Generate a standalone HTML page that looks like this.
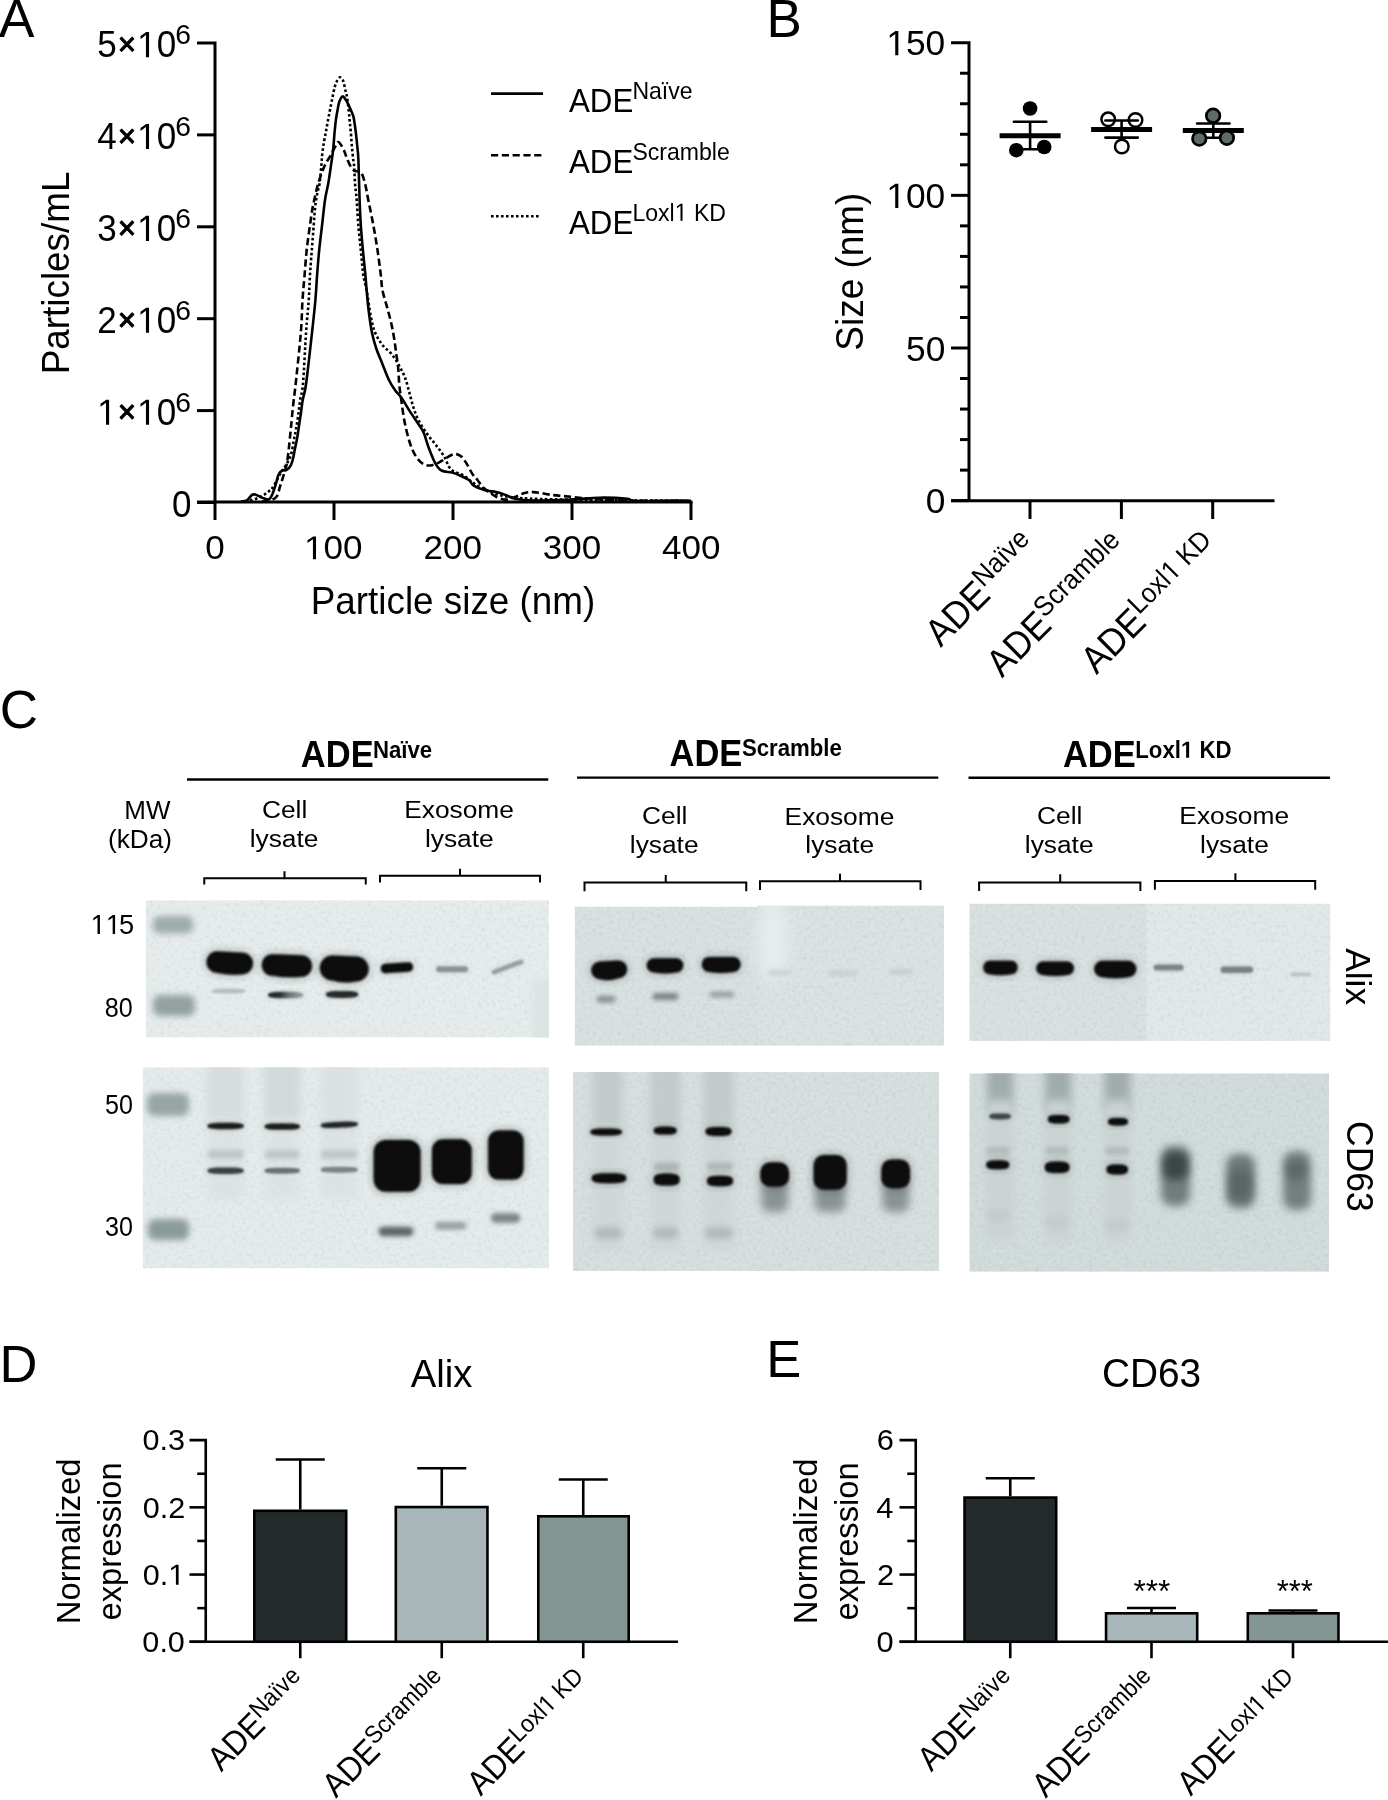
<!DOCTYPE html>
<html><head><meta charset="utf-8"><style>
html,body{margin:0;padding:0;background:#fff;}
svg{display:block;will-change:transform;}
text{font-family:"Liberation Sans", sans-serif;}
</style></head><body>
<svg width="1388" height="1800" viewBox="0 0 1388 1800">
<rect width="1388" height="1800" fill="#fff"/>
<defs>
<filter id="b1" x="-50%" y="-50%" width="200%" height="200%"><feGaussianBlur stdDeviation="1.1"/></filter>
<filter id="b2" x="-50%" y="-50%" width="200%" height="200%"><feGaussianBlur stdDeviation="2"/></filter>
<filter id="b3" x="-50%" y="-50%" width="200%" height="200%"><feGaussianBlur stdDeviation="3"/></filter>
<filter id="b4" x="-50%" y="-50%" width="200%" height="200%"><feGaussianBlur stdDeviation="4"/></filter>
<filter id="b6" x="-50%" y="-50%" width="200%" height="200%"><feGaussianBlur stdDeviation="6"/></filter>
<filter id="b8" x="-50%" y="-50%" width="200%" height="200%"><feGaussianBlur stdDeviation="8"/></filter>
<filter id="nzd" x="0" y="0" width="100%" height="100%"><feTurbulence type="fractalNoise" baseFrequency="0.28" numOctaves="3" seed="7" result="t"/><feGaussianBlur in="t" stdDeviation="0.7" result="t2"/><feColorMatrix in="t2" type="matrix" values="0 0 0 0 0.1  0 0 0 0 0.15  0 0 0 0 0.15  0.45 0 0 0 -0.225"/></filter>
<filter id="nzl" x="0" y="0" width="100%" height="100%"><feTurbulence type="fractalNoise" baseFrequency="0.28" numOctaves="3" seed="7" result="t"/><feGaussianBlur in="t" stdDeviation="0.7" result="t2"/><feColorMatrix in="t2" type="matrix" values="0 0 0 0 1  0 0 0 0 1  0 0 0 0 1  -0.45 0 0 0 0.225"/></filter>
<linearGradient id="gl2" x1="0" y1="0" x2="1" y2="0"><stop offset="0" stop-color="#202424"/><stop offset="0.35" stop-color="#2c3131"/><stop offset="0.6" stop-color="#6d7575"/><stop offset="1" stop-color="#9aa2a2"/></linearGradient>
<clipPath id="c1a"><rect x="145.7" y="900.2" width="403.3" height="137.3"/></clipPath>
<clipPath id="c1c"><rect x="142.6" y="1067.3" width="406.4" height="201.1"/></clipPath>
<clipPath id="c2a"><rect x="574.6" y="905.5" width="369.4" height="140.3"/></clipPath>
<clipPath id="c2c"><rect x="573" y="1072.1" width="366" height="198.9"/></clipPath>
<clipPath id="c3a"><rect x="969.3" y="903.6" width="361.2" height="137.3"/></clipPath>
<clipPath id="c3c"><rect x="969.3" y="1073.3" width="359.8" height="198.5"/></clipPath>
</defs>
<g transform="translate(-1.33,36.70) scale(1.0000,1)"><text font-size="53.50">A</text></g>
<path d="M197,43.0 H215 V502.5" fill="none" stroke="#000" stroke-width="3" stroke-linejoin="miter"/>
<line x1="197" y1="134.9" x2="215" y2="134.9" stroke="#000" stroke-width="3"/>
<line x1="197" y1="226.8" x2="215" y2="226.8" stroke="#000" stroke-width="3"/>
<line x1="197" y1="318.70000000000005" x2="215" y2="318.70000000000005" stroke="#000" stroke-width="3"/>
<line x1="197" y1="410.6" x2="215" y2="410.6" stroke="#000" stroke-width="3"/>
<line x1="197" y1="502.5" x2="215" y2="502.5" stroke="#000" stroke-width="3"/>
<line x1="197" y1="502" x2="692.5" y2="502" stroke="#000" stroke-width="3"/>
<line x1="215" y1="502" x2="215" y2="520" stroke="#000" stroke-width="3"/>
<line x1="334" y1="502" x2="334" y2="520" stroke="#000" stroke-width="3"/>
<line x1="453" y1="502" x2="453" y2="520" stroke="#000" stroke-width="3"/>
<line x1="572" y1="502" x2="572" y2="520" stroke="#000" stroke-width="3"/>
<line x1="691" y1="502" x2="691" y2="520" stroke="#000" stroke-width="3"/>
<g transform="translate(97.20,57.14) scale(0.9607,1)"><text x="0.00" font-size="36.47">5</text><path d="M142 330 496 684 144 1036 248 1139 598 786 948 1137 1053 1032 703 684 1055 332 953 227 600 580 244 225Z" transform="translate(20.28,0) scale(0.01781,-0.01781) translate(598,722) scale(0.88) translate(-598,-682)" fill="#000" stroke="#000" stroke-width="70" stroke-linejoin="round"/><path d="M515 0V1237L197 1010V1180L530 1409H696V0Z" transform="translate(41.58,0) scale(0.01781,-0.01781)" fill="#000"/><text x="61.86" font-size="36.47">0</text></g>
<g transform="translate(175.18,44.23) scale(1.0383,1)"><text font-size="27.28">6</text></g>
<g transform="translate(97.20,149.04) scale(0.9607,1)"><text x="0.00" font-size="36.47">4</text><path d="M142 330 496 684 144 1036 248 1139 598 786 948 1137 1053 1032 703 684 1055 332 953 227 600 580 244 225Z" transform="translate(20.28,0) scale(0.01781,-0.01781) translate(598,722) scale(0.88) translate(-598,-682)" fill="#000" stroke="#000" stroke-width="70" stroke-linejoin="round"/><path d="M515 0V1237L197 1010V1180L530 1409H696V0Z" transform="translate(41.58,0) scale(0.01781,-0.01781)" fill="#000"/><text x="61.86" font-size="36.47">0</text></g>
<g transform="translate(175.18,136.13) scale(1.0383,1)"><text font-size="27.28">6</text></g>
<g transform="translate(97.20,240.94) scale(0.9607,1)"><text x="0.00" font-size="36.47">3</text><path d="M142 330 496 684 144 1036 248 1139 598 786 948 1137 1053 1032 703 684 1055 332 953 227 600 580 244 225Z" transform="translate(20.28,0) scale(0.01781,-0.01781) translate(598,722) scale(0.88) translate(-598,-682)" fill="#000" stroke="#000" stroke-width="70" stroke-linejoin="round"/><path d="M515 0V1237L197 1010V1180L530 1409H696V0Z" transform="translate(41.58,0) scale(0.01781,-0.01781)" fill="#000"/><text x="61.86" font-size="36.47">0</text></g>
<g transform="translate(175.18,228.03) scale(1.0383,1)"><text font-size="27.28">6</text></g>
<g transform="translate(97.20,332.84) scale(0.9607,1)"><text x="0.00" font-size="36.47">2</text><path d="M142 330 496 684 144 1036 248 1139 598 786 948 1137 1053 1032 703 684 1055 332 953 227 600 580 244 225Z" transform="translate(20.28,0) scale(0.01781,-0.01781) translate(598,722) scale(0.88) translate(-598,-682)" fill="#000" stroke="#000" stroke-width="70" stroke-linejoin="round"/><path d="M515 0V1237L197 1010V1180L530 1409H696V0Z" transform="translate(41.58,0) scale(0.01781,-0.01781)" fill="#000"/><text x="61.86" font-size="36.47">0</text></g>
<g transform="translate(175.18,319.93) scale(1.0383,1)"><text font-size="27.28">6</text></g>
<g transform="translate(97.20,424.74) scale(0.9607,1)"><path d="M515 0V1237L197 1010V1180L530 1409H696V0Z" transform="translate(0.00,0) scale(0.01781,-0.01781)" fill="#000"/><path d="M142 330 496 684 144 1036 248 1139 598 786 948 1137 1053 1032 703 684 1055 332 953 227 600 580 244 225Z" transform="translate(20.28,0) scale(0.01781,-0.01781) translate(598,722) scale(0.88) translate(-598,-682)" fill="#000" stroke="#000" stroke-width="70" stroke-linejoin="round"/><path d="M515 0V1237L197 1010V1180L530 1409H696V0Z" transform="translate(41.58,0) scale(0.01781,-0.01781)" fill="#000"/><text x="61.86" font-size="36.47">0</text></g>
<g transform="translate(175.18,411.83) scale(1.0383,1)"><text font-size="27.28">6</text></g>
<g transform="translate(172.07,516.64) scale(0.9607,1)"><text font-size="36.47">0</text></g>
<g transform="translate(205.23,559.17) scale(1.0665,1)"><text font-size="32.86">0</text></g>
<g transform="translate(304.12,559.17) scale(1.0665,1)"><path d="M515 0V1237L197 1010V1180L530 1409H696V0Z" transform="translate(0.00,0) scale(0.01605,-0.01605)" fill="#000"/><text x="18.28" font-size="32.86">00</text></g>
<g transform="translate(423.56,559.17) scale(1.0665,1)"><text font-size="32.86">200</text></g>
<g transform="translate(542.78,559.17) scale(1.0665,1)"><text font-size="32.86">300</text></g>
<g transform="translate(662.04,559.17) scale(1.0665,1)"><text font-size="32.86">400</text></g>
<g transform="translate(310.76,613.66) scale(0.9388,1)"><text font-size="39.25">Particle size (nm)</text></g>
<g transform="translate(68.91,374.34) rotate(-90) scale(0.9545,1)"><text font-size="38.64">Particles/mL</text></g>
<line x1="491" y1="93.6" x2="543" y2="93.6" stroke="#000" stroke-width="2.6"/>
<line x1="491" y1="155.3" x2="543" y2="155.3" stroke="#000" stroke-width="2.6" stroke-dasharray="7.2,3.6"/>
<line x1="491" y1="216.2" x2="540" y2="216.2" stroke="#000" stroke-width="2.6" stroke-dasharray="2.6,2.4"/>
<g transform="translate(569.02,111.70) scale(0.9222,1)"><text font-size="33.89">ADE</text></g>
<g transform="translate(632.40,98.75) scale(0.9297,1)"><text font-size="24.80">Naïve</text></g>
<g transform="translate(569.02,172.70) scale(0.9222,1)"><text font-size="33.89">ADE</text></g>
<g transform="translate(632.40,159.75) scale(0.9297,1)"><text font-size="24.80">Scramble</text></g>
<g transform="translate(569.02,233.70) scale(0.9222,1)"><text font-size="33.89">ADE</text></g>
<g transform="translate(632.40,220.75) scale(0.9297,1)"><text x="0.00" font-size="24.80">Loxl</text><path d="M515 0V1237L197 1010V1180L530 1409H696V0Z" transform="translate(45.50,0) scale(0.01211,-0.01211)" fill="#000"/><text x="66.19" font-size="24.80">KD</text></g>
<path d="M241.00,501.50 C242.00,501.32 245.22,501.47 247.00,500.40 C248.78,499.33 250.33,496.08 251.70,495.10 C253.07,494.12 253.93,494.30 255.20,494.50 C256.47,494.70 257.75,495.62 259.30,496.30 C260.85,496.98 262.85,498.12 264.50,498.60 C266.15,499.08 267.83,500.07 269.20,499.20 C270.57,498.33 271.53,496.13 272.70,493.40 C273.87,490.67 275.23,485.92 276.20,482.80 C277.17,479.68 277.53,476.73 278.50,474.70 C279.47,472.67 280.63,471.38 282.00,470.60 C283.37,469.82 285.23,470.88 286.70,470.00 C288.17,469.12 289.73,467.25 290.80,465.30 C291.87,463.35 292.43,460.92 293.10,458.30 C293.77,455.68 294.12,453.00 294.80,449.60 C295.48,446.20 296.52,441.78 297.20,437.90 C297.88,434.02 298.32,430.18 298.90,426.30 C299.48,422.42 300.07,418.98 300.70,414.60 C301.33,410.22 301.80,405.15 302.70,400.00 C303.60,394.85 304.53,395.05 306.10,383.70 C307.67,372.35 310.55,345.85 312.10,331.90 C313.65,317.95 314.57,309.48 315.40,300.00 C316.23,290.52 316.47,283.33 317.10,275.00 C317.73,266.67 318.37,258.33 319.20,250.00 C320.03,241.67 321.13,233.33 322.10,225.00 C323.07,216.67 323.97,206.95 325.00,200.00 C326.03,193.05 327.33,188.85 328.30,183.30 C329.27,177.75 330.00,172.25 330.80,166.70 C331.60,161.15 332.47,155.78 333.10,150.00 C333.73,144.22 334.12,137.15 334.60,132.00 C335.08,126.85 335.52,122.70 336.00,119.10 C336.48,115.50 336.95,113.28 337.50,110.40 C338.05,107.52 338.47,104.13 339.30,101.80 C340.13,99.47 341.37,96.65 342.50,96.40 C343.63,96.15 344.78,98.20 346.10,100.30 C347.42,102.40 349.20,106.35 350.40,109.00 C351.60,111.65 352.57,113.57 353.30,116.20 C354.03,118.83 354.32,121.57 354.80,124.80 C355.28,128.03 355.78,131.98 356.20,135.60 C356.62,139.22 356.93,142.43 357.30,146.50 C357.67,150.57 358.02,151.08 358.40,160.00 C358.78,168.92 359.20,189.17 359.60,200.00 C360.00,210.83 360.25,216.67 360.80,225.00 C361.35,233.33 362.13,241.67 362.90,250.00 C363.67,258.33 364.78,268.33 365.40,275.00 C366.02,281.67 366.05,283.98 366.60,290.00 C367.15,296.02 367.82,304.07 368.70,311.10 C369.58,318.13 370.67,326.05 371.90,332.20 C373.13,338.35 374.35,342.72 376.10,348.00 C377.85,353.28 380.28,358.62 382.40,363.90 C384.52,369.18 386.68,375.30 388.80,379.70 C390.92,384.10 393.00,387.30 395.10,390.30 C397.20,393.30 398.93,394.18 401.40,397.70 C403.87,401.22 407.08,407.02 409.90,411.40 C412.72,415.78 416.02,420.48 418.30,424.00 C420.58,427.52 421.83,428.45 423.60,432.50 C425.37,436.55 426.97,443.20 428.90,448.30 C430.83,453.40 433.10,459.40 435.20,463.10 C437.30,466.80 438.68,468.92 441.50,470.50 C444.32,472.08 448.93,471.72 452.10,472.60 C455.27,473.48 457.68,474.57 460.50,475.80 C463.32,477.03 466.80,478.37 469.00,480.00 C471.20,481.63 471.03,483.88 473.70,485.60 C476.37,487.32 481.25,489.22 485.00,490.30 C488.75,491.38 492.77,491.32 496.20,492.10 C499.63,492.88 502.48,493.90 505.60,495.00 C508.72,496.10 510.22,497.78 514.90,498.70 C519.58,499.62 524.33,500.35 533.70,500.50 C543.07,500.65 560.18,500.07 571.10,499.60 C582.02,499.13 589.83,497.85 599.20,497.70 C608.57,497.55 621.37,498.15 627.30,498.70 C633.23,499.25 626.98,500.70 634.80,501.00 C642.62,501.30 664.83,500.50 674.20,500.50 C683.57,500.50 688.20,500.92 691.00,501.00" fill="none" stroke="#000" stroke-width="2.6" stroke-linejoin="round"/>
<path d="M262.00,501.50 C263.48,501.32 268.35,501.37 270.90,500.40 C273.45,499.43 275.83,497.85 277.30,495.70 C278.77,493.55 278.92,490.03 279.70,487.50 C280.48,484.97 281.23,482.93 282.00,480.50 C282.77,478.07 283.52,475.62 284.30,472.90 C285.08,470.18 286.02,467.60 286.70,464.20 C287.38,460.80 287.92,456.40 288.40,452.50 C288.88,448.60 289.20,444.68 289.60,440.80 C290.00,436.92 290.42,433.08 290.80,429.20 C291.18,425.32 291.42,422.37 291.90,417.50 C292.38,412.63 293.07,405.63 293.70,400.00 C294.33,394.37 294.50,395.05 295.70,383.70 C296.90,372.35 299.77,345.85 300.90,331.90 C302.03,317.95 301.88,309.48 302.50,300.00 C303.12,290.52 303.90,283.33 304.60,275.00 C305.30,266.67 305.80,258.33 306.70,250.00 C307.60,241.67 309.03,231.95 310.00,225.00 C310.97,218.05 311.80,212.47 312.50,208.30 C313.20,204.13 313.23,204.17 314.20,200.00 C315.17,195.83 316.63,188.85 318.30,183.30 C319.97,177.75 322.20,171.28 324.20,166.70 C326.20,162.12 328.45,159.17 330.30,155.80 C332.15,152.43 333.98,148.78 335.30,146.50 C336.62,144.22 337.23,142.35 338.20,142.10 C339.17,141.85 340.02,143.32 341.10,145.00 C342.18,146.68 343.75,150.03 344.70,152.20 C345.65,154.37 345.78,155.58 346.80,158.00 C347.82,160.42 349.43,164.53 350.80,166.70 C352.17,168.87 353.30,170.05 355.00,171.00 C356.70,171.95 359.33,170.35 361.00,172.40 C362.67,174.45 363.78,178.70 365.00,183.30 C366.22,187.90 366.92,193.05 368.30,200.00 C369.68,206.95 371.77,216.67 373.30,225.00 C374.83,233.33 376.25,241.67 377.50,250.00 C378.75,258.33 379.98,268.33 380.80,275.00 C381.62,281.67 381.42,284.87 382.40,290.00 C383.38,295.13 385.28,300.52 386.70,305.80 C388.12,311.08 389.68,316.42 390.90,321.70 C392.12,326.98 393.12,332.23 394.00,337.50 C394.88,342.77 395.48,348.02 396.20,353.30 C396.92,358.58 397.78,363.92 398.30,369.20 C398.82,374.48 398.78,379.73 399.30,385.00 C399.82,390.27 400.52,394.65 401.40,400.80 C402.28,406.95 403.18,414.87 404.60,421.90 C406.02,428.93 407.97,437.18 409.90,443.00 C411.83,448.82 413.92,453.28 416.20,456.80 C418.48,460.32 420.97,462.70 423.60,464.10 C426.23,465.50 429.02,465.72 432.00,465.20 C434.98,464.68 438.50,462.58 441.50,461.00 C444.50,459.42 447.53,456.85 450.00,455.70 C452.47,454.55 454.37,453.92 456.30,454.10 C458.23,454.28 459.83,455.13 461.60,456.80 C463.37,458.47 465.13,461.30 466.90,464.10 C468.67,466.90 470.43,470.95 472.20,473.60 C473.97,476.25 475.68,477.70 477.50,480.00 C479.32,482.30 480.92,485.22 483.10,487.40 C485.28,489.58 488.42,491.53 490.60,493.10 C492.78,494.67 493.70,495.72 496.20,496.80 C498.70,497.88 502.47,499.57 505.60,499.60 C508.73,499.63 511.88,498.08 515.00,497.00 C518.12,495.92 521.18,493.92 524.30,493.10 C527.42,492.28 529.02,491.78 533.70,492.10 C538.38,492.42 546.17,494.22 552.40,495.00 C558.63,495.78 564.85,496.18 571.10,496.80 C577.35,497.42 583.65,498.23 589.90,498.70 C596.15,499.17 602.37,499.30 608.60,499.60 C614.83,499.90 618.73,500.27 627.30,500.50 C635.87,500.73 649.38,500.92 660.00,501.00 C670.62,501.08 685.83,501.00 691.00,501.00" fill="none" stroke="#000" stroke-width="2.6" stroke-dasharray="7.2,3.6"/>
<path d="M250.00,500.50 C251.33,500.08 255.58,499.00 258.00,498.00 C260.42,497.00 262.63,495.67 264.50,494.50 C266.37,493.33 267.83,492.17 269.20,491.00 C270.57,489.83 270.77,490.52 272.70,487.50 C274.63,484.48 278.67,476.50 280.80,472.90 C282.93,469.30 283.83,468.82 285.50,465.90 C287.17,462.98 289.43,459.58 290.80,455.40 C292.17,451.22 292.83,445.17 293.70,440.80 C294.57,436.43 295.23,433.57 296.00,429.20 C296.77,424.83 297.62,419.47 298.30,414.60 C298.98,409.73 299.32,405.15 300.10,400.00 C300.88,394.85 302.00,395.05 303.00,383.70 C304.00,372.35 305.14,345.85 306.10,331.90 C307.06,317.95 308.10,309.48 308.75,300.00 C309.40,290.52 309.49,283.33 310.00,275.00 C310.51,266.67 311.18,258.33 311.80,250.00 C312.43,241.67 313.22,231.95 313.75,225.00 C314.28,218.05 314.46,213.30 315.00,208.30 C315.54,203.30 316.23,199.17 317.00,195.00 C317.77,190.83 318.89,188.02 319.60,183.30 C320.31,178.58 320.80,171.63 321.25,166.70 C321.70,161.77 321.82,157.92 322.30,153.70 C322.78,149.48 323.50,145.02 324.10,141.40 C324.70,137.78 325.35,135.00 325.90,132.00 C326.45,129.00 326.85,126.40 327.40,123.40 C327.95,120.40 328.60,117.12 329.20,114.00 C329.80,110.88 330.40,107.70 331.00,104.70 C331.60,101.70 332.20,98.88 332.80,96.00 C333.40,93.12 333.95,89.80 334.60,87.40 C335.25,85.00 335.80,83.28 336.70,81.60 C337.60,79.92 338.92,77.42 340.00,77.30 C341.08,77.18 342.30,78.73 343.20,80.90 C344.10,83.07 344.80,87.78 345.40,90.30 C346.00,92.82 346.27,92.88 346.80,96.00 C347.33,99.12 348.12,104.80 348.60,109.00 C349.08,113.20 349.33,117.37 349.70,121.20 C350.07,125.03 350.43,127.78 350.80,132.00 C351.17,136.22 351.48,141.83 351.90,146.50 C352.32,151.17 352.92,156.63 353.30,160.00 C353.68,163.37 353.92,162.82 354.20,166.70 C354.48,170.58 354.58,177.75 355.00,183.30 C355.42,188.85 356.15,193.05 356.70,200.00 C357.25,206.95 357.62,216.67 358.30,225.00 C358.98,233.33 359.97,241.67 360.80,250.00 C361.63,258.33 362.33,268.33 363.30,275.00 C364.27,281.67 365.35,283.10 366.60,290.00 C367.85,296.90 369.40,309.37 370.80,316.40 C372.20,323.43 373.07,327.45 375.00,332.20 C376.93,336.95 379.58,341.20 382.40,344.90 C385.22,348.60 389.08,350.88 391.90,354.40 C394.72,357.92 397.18,362.32 399.30,366.00 C401.42,369.68 403.02,372.45 404.60,376.50 C406.18,380.55 407.40,385.37 408.80,390.30 C410.20,395.23 411.42,401.18 413.00,406.10 C414.58,411.02 416.00,415.23 418.30,419.80 C420.60,424.37 423.98,429.45 426.80,433.50 C429.62,437.55 432.38,440.40 435.20,444.10 C438.02,447.80 441.07,451.48 443.70,455.70 C446.33,459.92 447.72,466.12 451.00,469.40 C454.28,472.68 459.40,472.97 463.40,475.40 C467.40,477.83 470.57,481.23 475.00,484.00 C479.43,486.77 484.17,489.83 490.00,492.00 C495.83,494.17 501.67,495.83 510.00,497.00 C518.33,498.17 525.00,498.50 540.00,499.00 C555.00,499.50 574.83,499.67 600.00,500.00 C625.17,500.33 675.83,500.83 691.00,501.00" fill="none" stroke="#000" stroke-width="2.6" stroke-dasharray="2.6,2.4"/>
<g transform="translate(766.43,36.70) scale(1.0000,1)"><text font-size="53.00">B</text></g>
<path d="M951,42.7 H969 V500.65000000000003" fill="none" stroke="#000" stroke-width="3"/>
<line x1="951" y1="195.35000000000002" x2="969" y2="195.35000000000002" stroke="#000" stroke-width="3"/>
<line x1="951" y1="348.0" x2="969" y2="348.0" stroke="#000" stroke-width="3"/>
<line x1="951" y1="500.65000000000003" x2="969" y2="500.65000000000003" stroke="#000" stroke-width="3"/>
<line x1="960" y1="73.23" x2="969" y2="73.23" stroke="#000" stroke-width="3"/>
<line x1="960" y1="103.76" x2="969" y2="103.76" stroke="#000" stroke-width="3"/>
<line x1="960" y1="134.29000000000002" x2="969" y2="134.29000000000002" stroke="#000" stroke-width="3"/>
<line x1="960" y1="164.82" x2="969" y2="164.82" stroke="#000" stroke-width="3"/>
<line x1="960" y1="225.88" x2="969" y2="225.88" stroke="#000" stroke-width="3"/>
<line x1="960" y1="256.41" x2="969" y2="256.41" stroke="#000" stroke-width="3"/>
<line x1="960" y1="286.94" x2="969" y2="286.94" stroke="#000" stroke-width="3"/>
<line x1="960" y1="317.46999999999997" x2="969" y2="317.46999999999997" stroke="#000" stroke-width="3"/>
<line x1="960" y1="378.53000000000003" x2="969" y2="378.53000000000003" stroke="#000" stroke-width="3"/>
<line x1="960" y1="409.06" x2="969" y2="409.06" stroke="#000" stroke-width="3"/>
<line x1="960" y1="439.59" x2="969" y2="439.59" stroke="#000" stroke-width="3"/>
<line x1="960" y1="470.12" x2="969" y2="470.12" stroke="#000" stroke-width="3"/>
<line x1="951" y1="500.65000000000003" x2="1274.5" y2="500.65000000000003" stroke="#000" stroke-width="3"/>
<line x1="1030" y1="500.65000000000003" x2="1030" y2="519" stroke="#000" stroke-width="3"/>
<line x1="1121.4" y1="500.65000000000003" x2="1121.4" y2="519" stroke="#000" stroke-width="3"/>
<line x1="1212.7" y1="500.65000000000003" x2="1212.7" y2="519" stroke="#000" stroke-width="3"/>
<g transform="translate(886.35,55.25) scale(1.0032,1)"><path d="M515 0V1237L197 1010V1180L530 1409H696V0Z" transform="translate(0.00,0) scale(0.01718,-0.01718)" fill="#000"/><text x="19.57" font-size="35.19">50</text></g>
<g transform="translate(886.35,207.90) scale(1.0032,1)"><path d="M515 0V1237L197 1010V1180L530 1409H696V0Z" transform="translate(0.00,0) scale(0.01718,-0.01718)" fill="#000"/><text x="19.57" font-size="35.19">00</text></g>
<g transform="translate(906.03,360.55) scale(1.0032,1)"><text font-size="35.19">50</text></g>
<g transform="translate(925.63,513.20) scale(1.0032,1)"><text font-size="35.19">0</text></g>
<g transform="translate(863.01,350.66) rotate(-90) scale(0.9593,1)"><text font-size="38.50">Size (nm)</text></g>
<line x1="999.5999999999999" y1="135.8" x2="1060.6" y2="135.8" stroke="#000" stroke-width="5.0"/>
<line x1="1030.1" y1="121.7" x2="1030.1" y2="149.2" stroke="#000" stroke-width="2.6"/>
<line x1="1013.8999999999999" y1="121.7" x2="1046.3" y2="121.7" stroke="#000" stroke-width="2.6" stroke-linecap="round"/>
<line x1="1013.8999999999999" y1="149.2" x2="1046.3" y2="149.2" stroke="#000" stroke-width="2.6" stroke-linecap="round"/>
<circle cx="1030.1" cy="108.5" r="7.3" fill="#000"/>
<circle cx="1016.3" cy="150.2" r="7.3" fill="#000"/>
<circle cx="1044.2" cy="147" r="7.3" fill="#000"/>
<circle cx="1108.2" cy="119.3" r="6.8" fill="#fff" stroke="#000" stroke-width="2.5"/>
<circle cx="1135.5" cy="120" r="6.8" fill="#fff" stroke="#000" stroke-width="2.5"/>
<circle cx="1121.8" cy="146.5" r="6.8" fill="#fff" stroke="#000" stroke-width="2.5"/>
<line x1="1091.1" y1="129.5" x2="1152.1" y2="129.5" stroke="#000" stroke-width="5.0"/>
<line x1="1121.6" y1="120.5" x2="1121.6" y2="137.6" stroke="#000" stroke-width="2.6"/>
<line x1="1105.3999999999999" y1="120.5" x2="1137.8" y2="120.5" stroke="#000" stroke-width="2.6" stroke-linecap="round"/>
<line x1="1105.3999999999999" y1="137.6" x2="1137.8" y2="137.6" stroke="#000" stroke-width="2.6" stroke-linecap="round"/>
<line x1="1182.8" y1="130.5" x2="1243.8" y2="130.5" stroke="#000" stroke-width="5.0"/>
<line x1="1213.3" y1="123.5" x2="1213.3" y2="137.8" stroke="#000" stroke-width="2.6"/>
<line x1="1197.1" y1="123.5" x2="1229.5" y2="123.5" stroke="#000" stroke-width="2.6" stroke-linecap="round"/>
<line x1="1197.1" y1="137.8" x2="1229.5" y2="137.8" stroke="#000" stroke-width="2.6" stroke-linecap="round"/>
<circle cx="1213.1" cy="115.7" r="6.8" fill="#5f6a6a" stroke="#000" stroke-width="2.7"/>
<circle cx="1199.3" cy="138.6" r="6.8" fill="#5f6a6a" stroke="#000" stroke-width="2.7"/>
<circle cx="1226.9" cy="137.8" r="6.8" fill="#5f6a6a" stroke="#000" stroke-width="2.7"/>
<g transform="translate(940.80,648.00) rotate(-45)"><g transform="scale(0.9250,1)"><text font-size="38.10">ADE</text></g><g transform="translate(72.46,-12.40) scale(0.9250,1)"><text font-size="27.80">Naïve</text></g></g>
<g transform="translate(1002.10,678.40) rotate(-45)"><g transform="scale(0.9250,1)"><text font-size="38.10">ADE</text></g><g transform="translate(72.46,-12.40) scale(0.9250,1)"><text font-size="27.80">Scramble</text></g></g>
<g transform="translate(1096.60,675.30) rotate(-45)"><g transform="scale(0.9250,1)"><text font-size="38.10">ADE</text></g><g transform="translate(72.46,-12.40) scale(0.9250,1)"><text x="0.00" font-size="27.80">Loxl</text><path d="M515 0V1237L197 1010V1180L530 1409H696V0Z" transform="translate(51.00,0) scale(0.01357,-0.01357)" fill="#000"/><text x="74.18" font-size="27.80">KD</text></g></g>
<g transform="translate(-0.25,727.67) scale(1.0000,1)"><text font-size="53.00">C</text></g>
<g transform="translate(300.84,767.20) scale(0.9520,1)"><text font-size="36.22" font-weight="bold">ADE</text></g>
<g transform="translate(372.90,757.67) scale(0.9627,1)"><text font-size="23.06" font-weight="bold">Naïve</text></g>
<g transform="translate(669.54,766.00) scale(0.9520,1)"><text font-size="36.22" font-weight="bold">ADE</text></g>
<g transform="translate(741.93,756.17) scale(0.9627,1)"><text font-size="23.06" font-weight="bold">Scramble</text></g>
<g transform="translate(1062.94,767.20) scale(0.9520,1)"><text font-size="36.22" font-weight="bold">ADE</text></g>
<g transform="translate(1135.30,757.67) scale(0.9627,1)"><text x="0.00" font-size="23.06" font-weight="bold">Loxl</text><path d="M478 0V1170L140 959V1180L493 1409H759V0Z" transform="translate(47.40,0) scale(0.01126,-0.01126)" fill="#000"/><text x="66.64" font-size="23.06" font-weight="bold">KD</text></g>
<line x1="187" y1="779.5" x2="548.3" y2="779.5" stroke="#000" stroke-width="2.4"/>
<line x1="577" y1="777.6" x2="938.3" y2="777.6" stroke="#000" stroke-width="2.4"/>
<line x1="968.5" y1="777.8" x2="1330" y2="777.8" stroke="#000" stroke-width="2.4"/>
<g transform="translate(124.36,818.70) scale(0.9977,1)"><text font-size="26.04">MW</text></g>
<g transform="translate(107.96,847.66) scale(1.0182,1)"><text font-size="25.74">(kDa)</text></g>
<g transform="translate(261.88,818.46) scale(1.0822,1)"><text font-size="24.35">Cell</text></g>
<g transform="translate(249.63,847.04) scale(1.0822,1)"><text font-size="24.35">lysate</text></g>
<g transform="translate(404.16,818.16) scale(1.0822,1)"><text font-size="24.35">Exosome</text></g>
<g transform="translate(424.88,846.74) scale(1.0822,1)"><text font-size="24.35">lysate</text></g>
<g transform="translate(642.03,824.46) scale(1.0822,1)"><text font-size="24.35">Cell</text></g>
<g transform="translate(629.78,853.04) scale(1.0822,1)"><text font-size="24.35">lysate</text></g>
<g transform="translate(784.56,824.76) scale(1.0822,1)"><text font-size="24.35">Exosome</text></g>
<g transform="translate(805.28,853.34) scale(1.0822,1)"><text font-size="24.35">lysate</text></g>
<g transform="translate(1037.03,823.96) scale(1.0822,1)"><text font-size="24.35">Cell</text></g>
<g transform="translate(1024.78,852.54) scale(1.0822,1)"><text font-size="24.35">lysate</text></g>
<g transform="translate(1179.31,823.96) scale(1.0822,1)"><text font-size="24.35">Exosome</text></g>
<g transform="translate(1200.03,852.54) scale(1.0822,1)"><text font-size="24.35">lysate</text></g>
<path d="M204.25,884.5 V878.25 H365.75 V884.5 M284.5,878.25 V871.25" fill="none" stroke="#000" stroke-width="2.0"/>
<path d="M380,882.5 V875.75 H540 V882.5 M460,875.75 V868.75" fill="none" stroke="#000" stroke-width="2.0"/>
<path d="M584.5,891.25 V882.5 H746.25 V891.25 M665.75,882.5 V875" fill="none" stroke="#000" stroke-width="2.0"/>
<path d="M760,890 V881.25 H920.5 V890 M840,881.25 V873.75" fill="none" stroke="#000" stroke-width="2.0"/>
<path d="M979.1,891 V882.6 H1140.4 V891 M1060.2,882.6 V874.3" fill="none" stroke="#000" stroke-width="2.0"/>
<path d="M1154.9,889.7 V881.1 H1315.2 V889.7 M1235.4,881.1 V873.3" fill="none" stroke="#000" stroke-width="2.0"/>
<g transform="translate(90.65,934.02) scale(0.9909,1)"><path d="M515 0V1237L197 1010V1180L530 1409H696V0Z" transform="translate(0.00,0) scale(0.01344,-0.01344)" fill="#000"/><path d="M515 0V1237L197 1010V1180L530 1409H696V0Z" transform="translate(15.31,0) scale(0.01344,-0.01344)" fill="#000"/><text x="28.58" font-size="27.53">5</text></g>
<g transform="translate(104.73,1016.93) scale(0.9170,1)"><text font-size="27.42">80</text></g>
<g transform="translate(105.03,1114.30) scale(0.9170,1)"><text font-size="27.42">50</text></g>
<g transform="translate(105.03,1236.40) scale(0.9170,1)"><text font-size="27.42">30</text></g>
<g transform="translate(1346.25,948.16) rotate(90) scale(1.0056,1)"><text font-size="35.17">Alix</text></g>
<g transform="translate(1346.57,1121.03) rotate(90) scale(0.9658,1)"><text font-size="36.75">CD63</text></g>
<g clip-path="url(#c1a)">
<rect x="145.7" y="900.2" width="403.3" height="137.3" fill="#e6ecec"/>
<rect x="145.7" y="900.2" width="403.3" height="137.3" filter="url(#nzd)" opacity="0.55"/>
<rect x="145.7" y="900.2" width="403.3" height="137.3" filter="url(#nzl)" opacity="0.55"/>
<rect x="533" y="980" width="30" height="70" fill="#dce3e3" filter="url(#b3)"/>
<rect x="153" y="916" width="40.0" height="17.5" rx="6" fill="#9eacaa" filter="url(#b3)"/>
<rect x="153" y="995" width="42.0" height="21.0" rx="7" fill="#93a2a0" filter="url(#b3)"/>
<path d="M216.2,951.3 L243.3,952.8 A10.8,10.8 0 0 1 243.3,974.3 Q229.8,975.5 216.2,972.8 A10.8,10.8 0 0 1 216.2,951.3 Z" fill="#1a2020" opacity="0.45" filter="url(#b4)"/>
<path d="M216.2,951.3 L243.3,952.8 A10.8,10.8 0 0 1 243.3,974.3 Q229.8,975.5 216.2,972.8 A10.8,10.8 0 0 1 216.2,951.3 Z" fill="#0c0d0d" filter="url(#b1)"/>
<path d="M272.6,954.2 L301.2,955.2 A10.8,10.8 0 0 1 301.2,976.8 Q286.9,978.2 272.6,975.8 A10.8,10.8 0 0 1 272.6,954.2 Z" fill="#1a2020" opacity="0.45" filter="url(#b4)"/>
<path d="M272.6,954.2 L301.2,955.2 A10.8,10.8 0 0 1 301.2,976.8 Q286.9,978.2 272.6,975.8 A10.8,10.8 0 0 1 272.6,954.2 Z" fill="#0c0d0d" filter="url(#b1)"/>
<path d="M332.3,955.5 L356.1,956.5 A12.5,12.5 0 0 1 356.1,981.5 Q344.2,984.0 332.3,980.5 A12.5,12.5 0 0 1 332.3,955.5 Z" fill="#1a2020" opacity="0.45" filter="url(#b4)"/>
<path d="M332.3,955.5 L356.1,956.5 A12.5,12.5 0 0 1 356.1,981.5 Q344.2,984.0 332.3,980.5 A12.5,12.5 0 0 1 332.3,955.5 Z" fill="#0c0d0d" filter="url(#b1)"/>
<path d="M384.9,963.7 L408.9,962.2 A4.8,4.8 0 0 1 408.9,971.7 L384.9,973.2 A4.8,4.8 0 0 1 384.9,963.7 Z" fill="#1a2020" opacity="0.3" filter="url(#b4)"/>
<path d="M384.9,963.7 L408.9,962.2 A4.8,4.8 0 0 1 408.9,971.7 L384.9,973.2 A4.8,4.8 0 0 1 384.9,963.7 Z" fill="#0c0d0d" filter="url(#b1)"/>
<path d="M439.0,966.2 L465.0,966.2 A3.0,3.0 0 0 1 465.0,972.2 L439.0,972.2 A3.0,3.0 0 0 1 439.0,966.2 Z" fill="#1a2020" opacity="0.1" filter="url(#b4)"/>
<path d="M439.0,966.2 L465.0,966.2 A3.0,3.0 0 0 1 465.0,972.2 L439.0,972.2 A3.0,3.0 0 0 1 439.0,966.2 Z" fill="#8a9292" filter="url(#b1)"/>
<path d="M494.3,969.5 L521.0,959.5 A2.5,2.5 0 0 1 521.0,964.5 L494.3,974.5 A2.5,2.5 0 0 1 494.3,969.5 Z" fill="#1a2020" opacity="0.08" filter="url(#b4)"/>
<path d="M494.3,969.5 L521.0,959.5 A2.5,2.5 0 0 1 521.0,964.5 L494.3,974.5 A2.5,2.5 0 0 1 494.3,969.5 Z" fill="#959e9e" filter="url(#b1)"/>
<path d="M245.5,991.0 L245.4,991.6 L245.1,992.0 L244.6,992.3 L244.0,992.6 L243.1,992.8 L242.0,993.0 L240.8,993.1 L239.3,993.3 L237.5,993.4 L235.5,993.4 L233.0,993.5 L228.7,993.5 L224.3,993.5 L221.8,993.4 L219.8,993.4 L218.0,993.3 L216.5,993.1 L215.3,993.0 L214.2,992.8 L213.3,992.6 L212.7,992.3 L212.2,992.0 L211.9,991.6 L211.8,991.0 L211.9,990.4 L212.2,990.0 L212.7,989.7 L213.3,989.4 L214.2,989.2 L215.3,989.0 L216.5,988.9 L218.0,988.7 L219.8,988.6 L221.8,988.6 L224.3,988.5 L228.6,988.5 L233.0,988.5 L235.5,988.6 L237.5,988.6 L239.3,988.7 L240.8,988.9 L242.0,989.0 L243.1,989.2 L244.0,989.4 L244.6,989.7 L245.1,990.0 L245.4,990.4 Z" fill="#b6bebe" filter="url(#b1)"/>
<path d="M303.4,995.0 L303.3,995.8 L303.0,996.3 L302.5,996.7 L301.8,997.0 L300.9,997.3 L299.7,997.6 L298.4,997.8 L296.9,998.0 L295.0,998.1 L292.9,998.2 L290.3,998.2 L285.7,998.2 L281.1,998.2 L278.5,998.2 L276.4,998.1 L274.5,998.0 L273.0,997.8 L271.7,997.6 L270.5,997.3 L269.6,997.0 L268.9,996.7 L268.4,996.3 L268.1,995.8 L268.0,995.0 L268.1,994.2 L268.4,993.7 L268.9,993.3 L269.6,993.0 L270.5,992.7 L271.7,992.4 L273.0,992.2 L274.5,992.0 L276.4,991.9 L278.5,991.8 L281.1,991.8 L285.7,991.8 L290.3,991.8 L292.9,991.8 L295.0,991.9 L296.9,992.0 L298.4,992.2 L299.7,992.4 L300.9,992.7 L301.8,993.0 L302.5,993.3 L303.0,993.7 L303.3,994.2 Z" fill="#1a2020" opacity="0.1" filter="url(#b4)"/>
<path d="M303.4,995.0 L303.3,995.8 L303.0,996.3 L302.5,996.7 L301.8,997.0 L300.9,997.3 L299.7,997.6 L298.4,997.8 L296.9,998.0 L295.0,998.1 L292.9,998.2 L290.3,998.2 L285.7,998.2 L281.1,998.2 L278.5,998.2 L276.4,998.1 L274.5,998.0 L273.0,997.8 L271.7,997.6 L270.5,997.3 L269.6,997.0 L268.9,996.7 L268.4,996.3 L268.1,995.8 L268.0,995.0 L268.1,994.2 L268.4,993.7 L268.9,993.3 L269.6,993.0 L270.5,992.7 L271.7,992.4 L273.0,992.2 L274.5,992.0 L276.4,991.9 L278.5,991.8 L281.1,991.8 L285.7,991.8 L290.3,991.8 L292.9,991.8 L295.0,991.9 L296.9,992.0 L298.4,992.2 L299.7,992.4 L300.9,992.7 L301.8,993.0 L302.5,993.3 L303.0,993.7 L303.3,994.2 Z" fill="url(#gl2)" filter="url(#b1)"/>
<path d="M358.2,994.4 L358.1,995.3 L357.8,995.8 L357.4,996.2 L356.7,996.6 L355.9,996.9 L354.9,997.2 L353.7,997.4 L352.2,997.6 L350.6,997.7 L348.6,997.8 L346.2,997.9 L342.1,997.9 L337.9,997.9 L335.5,997.8 L333.5,997.7 L331.9,997.6 L330.4,997.4 L329.2,997.2 L328.2,996.9 L327.4,996.6 L326.7,996.2 L326.3,995.8 L326.0,995.3 L325.9,994.4 L326.0,993.5 L326.3,993.0 L326.7,992.6 L327.4,992.2 L328.2,991.9 L329.2,991.6 L330.4,991.4 L331.9,991.2 L333.5,991.1 L335.5,991.0 L337.9,990.9 L342.0,990.9 L346.2,990.9 L348.6,991.0 L350.6,991.1 L352.2,991.2 L353.7,991.4 L354.9,991.6 L355.9,991.9 L356.7,992.2 L357.4,992.6 L357.8,993.0 L358.1,993.5 Z" fill="#1a2020" opacity="0.15" filter="url(#b4)"/>
<path d="M358.2,994.4 L358.1,995.3 L357.8,995.8 L357.4,996.2 L356.7,996.6 L355.9,996.9 L354.9,997.2 L353.7,997.4 L352.2,997.6 L350.6,997.7 L348.6,997.8 L346.2,997.9 L342.1,997.9 L337.9,997.9 L335.5,997.8 L333.5,997.7 L331.9,997.6 L330.4,997.4 L329.2,997.2 L328.2,996.9 L327.4,996.6 L326.7,996.2 L326.3,995.8 L326.0,995.3 L325.9,994.4 L326.0,993.5 L326.3,993.0 L326.7,992.6 L327.4,992.2 L328.2,991.9 L329.2,991.6 L330.4,991.4 L331.9,991.2 L333.5,991.1 L335.5,991.0 L337.9,990.9 L342.0,990.9 L346.2,990.9 L348.6,991.0 L350.6,991.1 L352.2,991.2 L353.7,991.4 L354.9,991.6 L355.9,991.9 L356.7,992.2 L357.4,992.6 L357.8,993.0 L358.1,993.5 Z" fill="#262a2a" filter="url(#b1)"/>
</g>
<g clip-path="url(#c1c)">
<rect x="142.6" y="1067.3" width="406.4" height="201.1" fill="#e5ebeb"/>
<rect x="142.6" y="1067.3" width="406.4" height="201.1" filter="url(#nzd)" opacity="0.55"/>
<rect x="142.6" y="1067.3" width="406.4" height="201.1" filter="url(#nzl)" opacity="0.55"/>
<rect x="147" y="1093" width="42.0" height="23.0" rx="7" fill="#97a6a4" filter="url(#b3)"/>
<rect x="148" y="1219" width="41.0" height="21.0" rx="7" fill="#8b9b99" filter="url(#b3)"/>
<rect x="207.4" y="1060" width="36.4" height="60.0" rx="4" fill="#d7dddd" filter="url(#b4)"/>
<rect x="207.4" y="1120" width="36.4" height="80.0" rx="4" fill="#d9dfdf" filter="url(#b4)" opacity="0.6"/>
<rect x="264.5" y="1060" width="35.5" height="60.0" rx="4" fill="#d2d9d9" filter="url(#b4)"/>
<rect x="264.5" y="1120" width="35.5" height="80.0" rx="4" fill="#d9dfdf" filter="url(#b4)" opacity="0.6"/>
<rect x="320.7" y="1060" width="37.2" height="60.0" rx="4" fill="#dbe1e1" filter="url(#b4)"/>
<rect x="320.7" y="1120" width="37.2" height="80.0" rx="4" fill="#d9dfdf" filter="url(#b4)" opacity="0.6"/>
<path d="M243.8,1126.0 L243.7,1126.8 L243.4,1127.3 L242.9,1127.7 L242.1,1128.0 L241.2,1128.3 L240.0,1128.6 L238.7,1128.8 L237.1,1129.0 L235.2,1129.1 L233.0,1129.2 L230.3,1129.2 L225.6,1129.2 L220.9,1129.2 L218.2,1129.2 L216.0,1129.1 L214.1,1129.0 L212.5,1128.8 L211.2,1128.6 L210.0,1128.3 L209.1,1128.0 L208.3,1127.7 L207.8,1127.3 L207.5,1126.8 L207.4,1126.0 L207.5,1125.2 L207.8,1124.7 L208.3,1124.3 L209.1,1124.0 L210.0,1123.7 L211.2,1123.4 L212.5,1123.2 L214.1,1123.0 L216.0,1122.9 L218.2,1122.8 L220.9,1122.8 L225.6,1122.8 L230.3,1122.8 L233.0,1122.8 L235.2,1122.9 L237.1,1123.0 L238.7,1123.2 L240.0,1123.4 L241.2,1123.7 L242.1,1124.0 L242.9,1124.3 L243.4,1124.7 L243.7,1125.2 Z" fill="#1a2020" opacity="0.15" filter="url(#b4)"/>
<path d="M243.8,1126.0 L243.7,1126.8 L243.4,1127.3 L242.9,1127.7 L242.1,1128.0 L241.2,1128.3 L240.0,1128.6 L238.7,1128.8 L237.1,1129.0 L235.2,1129.1 L233.0,1129.2 L230.3,1129.2 L225.6,1129.2 L220.9,1129.2 L218.2,1129.2 L216.0,1129.1 L214.1,1129.0 L212.5,1128.8 L211.2,1128.6 L210.0,1128.3 L209.1,1128.0 L208.3,1127.7 L207.8,1127.3 L207.5,1126.8 L207.4,1126.0 L207.5,1125.2 L207.8,1124.7 L208.3,1124.3 L209.1,1124.0 L210.0,1123.7 L211.2,1123.4 L212.5,1123.2 L214.1,1123.0 L216.0,1122.9 L218.2,1122.8 L220.9,1122.8 L225.6,1122.8 L230.3,1122.8 L233.0,1122.8 L235.2,1122.9 L237.1,1123.0 L238.7,1123.2 L240.0,1123.4 L241.2,1123.7 L242.1,1124.0 L242.9,1124.3 L243.4,1124.7 L243.7,1125.2 Z" fill="#1c1f1f" filter="url(#b1)"/>
<path d="M300.0,1126.6 L299.9,1127.4 L299.6,1127.9 L299.1,1128.3 L298.4,1128.6 L297.5,1128.9 L296.3,1129.2 L295.0,1129.4 L293.4,1129.6 L291.6,1129.7 L289.5,1129.8 L286.8,1129.8 L282.3,1129.8 L277.7,1129.8 L275.0,1129.8 L272.9,1129.7 L271.1,1129.6 L269.5,1129.4 L268.2,1129.2 L267.0,1128.9 L266.1,1128.6 L265.4,1128.3 L264.9,1127.9 L264.6,1127.4 L264.5,1126.6 L264.6,1125.8 L264.9,1125.3 L265.4,1124.9 L266.1,1124.6 L267.0,1124.3 L268.2,1124.0 L269.5,1123.8 L271.1,1123.6 L272.9,1123.5 L275.0,1123.4 L277.7,1123.4 L282.2,1123.3 L286.8,1123.4 L289.5,1123.4 L291.6,1123.5 L293.4,1123.6 L295.0,1123.8 L296.3,1124.0 L297.5,1124.3 L298.4,1124.6 L299.1,1124.9 L299.6,1125.3 L299.9,1125.8 Z" fill="#1a2020" opacity="0.15" filter="url(#b4)"/>
<path d="M300.0,1126.6 L299.9,1127.4 L299.6,1127.9 L299.1,1128.3 L298.4,1128.6 L297.5,1128.9 L296.3,1129.2 L295.0,1129.4 L293.4,1129.6 L291.6,1129.7 L289.5,1129.8 L286.8,1129.8 L282.3,1129.8 L277.7,1129.8 L275.0,1129.8 L272.9,1129.7 L271.1,1129.6 L269.5,1129.4 L268.2,1129.2 L267.0,1128.9 L266.1,1128.6 L265.4,1128.3 L264.9,1127.9 L264.6,1127.4 L264.5,1126.6 L264.6,1125.8 L264.9,1125.3 L265.4,1124.9 L266.1,1124.6 L267.0,1124.3 L268.2,1124.0 L269.5,1123.8 L271.1,1123.6 L272.9,1123.5 L275.0,1123.4 L277.7,1123.4 L282.2,1123.3 L286.8,1123.4 L289.5,1123.4 L291.6,1123.5 L293.4,1123.6 L295.0,1123.8 L296.3,1124.0 L297.5,1124.3 L298.4,1124.6 L299.1,1124.9 L299.6,1125.3 L299.9,1125.8 Z" fill="#1a1c1c" filter="url(#b1)"/>
<path d="M357.9,1124.1 L357.8,1124.8 L357.5,1125.3 L357.0,1125.7 L356.3,1126.0 L355.3,1126.3 L354.1,1126.6 L352.8,1126.8 L351.1,1127.1 L349.2,1127.2 L347.0,1127.4 L344.2,1127.6 L339.4,1127.8 L334.6,1128.0 L331.9,1128.0 L329.6,1128.0 L327.7,1128.0 L326.1,1127.9 L324.6,1127.8 L323.5,1127.6 L322.5,1127.4 L321.7,1127.1 L321.2,1126.7 L320.9,1126.3 L320.7,1125.5 L320.8,1124.8 L321.1,1124.3 L321.6,1123.9 L322.3,1123.6 L323.3,1123.3 L324.5,1123.0 L325.8,1122.8 L327.5,1122.5 L329.4,1122.4 L331.6,1122.2 L334.4,1122.0 L339.2,1121.8 L344.0,1121.6 L346.7,1121.6 L349.0,1121.6 L350.9,1121.6 L352.5,1121.7 L354.0,1121.8 L355.1,1122.0 L356.1,1122.2 L356.9,1122.5 L357.4,1122.9 L357.7,1123.3 Z" fill="#1a2020" opacity="0.15" filter="url(#b4)"/>
<path d="M357.9,1124.1 L357.8,1124.8 L357.5,1125.3 L357.0,1125.7 L356.3,1126.0 L355.3,1126.3 L354.1,1126.6 L352.8,1126.8 L351.1,1127.1 L349.2,1127.2 L347.0,1127.4 L344.2,1127.6 L339.4,1127.8 L334.6,1128.0 L331.9,1128.0 L329.6,1128.0 L327.7,1128.0 L326.1,1127.9 L324.6,1127.8 L323.5,1127.6 L322.5,1127.4 L321.7,1127.1 L321.2,1126.7 L320.9,1126.3 L320.7,1125.5 L320.8,1124.8 L321.1,1124.3 L321.6,1123.9 L322.3,1123.6 L323.3,1123.3 L324.5,1123.0 L325.8,1122.8 L327.5,1122.5 L329.4,1122.4 L331.6,1122.2 L334.4,1122.0 L339.2,1121.8 L344.0,1121.6 L346.7,1121.6 L349.0,1121.6 L350.9,1121.6 L352.5,1121.7 L354.0,1121.8 L355.1,1122.0 L356.1,1122.2 L356.9,1122.5 L357.4,1122.9 L357.7,1123.3 Z" fill="#232626" filter="url(#b1)"/>
<path d="M211.9,1149.7 L239.3,1149.7 A4.5,4.5 0 0 1 239.3,1158.7 L211.9,1158.7 A4.5,4.5 0 0 1 211.9,1149.7 Z" fill="#c0c7c7" filter="url(#b2)"/>
<path d="M269.0,1149.7 L295.5,1149.7 A4.5,4.5 0 0 1 295.5,1158.7 L269.0,1158.7 A4.5,4.5 0 0 1 269.0,1149.7 Z" fill="#c0c7c7" filter="url(#b2)"/>
<path d="M325.2,1149.7 L353.4,1149.7 A4.5,4.5 0 0 1 353.4,1158.7 L325.2,1158.7 A4.5,4.5 0 0 1 325.2,1149.7 Z" fill="#c0c7c7" filter="url(#b2)"/>
<path d="M243.8,1170.7 L243.7,1171.5 L243.4,1172.0 L242.9,1172.4 L242.1,1172.7 L241.2,1173.0 L240.0,1173.3 L238.7,1173.5 L237.1,1173.7 L235.2,1173.8 L233.0,1173.9 L230.3,1173.9 L225.6,1174.0 L220.9,1173.9 L218.2,1173.9 L216.0,1173.8 L214.1,1173.7 L212.5,1173.5 L211.2,1173.3 L210.0,1173.0 L209.1,1172.7 L208.3,1172.4 L207.8,1172.0 L207.5,1171.5 L207.4,1170.7 L207.5,1169.9 L207.8,1169.4 L208.3,1169.0 L209.1,1168.7 L210.0,1168.4 L211.2,1168.1 L212.5,1167.9 L214.1,1167.7 L216.0,1167.6 L218.2,1167.5 L220.9,1167.5 L225.6,1167.5 L230.3,1167.5 L233.0,1167.5 L235.2,1167.6 L237.1,1167.7 L238.7,1167.9 L240.0,1168.1 L241.2,1168.4 L242.1,1168.7 L242.9,1169.0 L243.4,1169.4 L243.7,1169.9 Z" fill="#1a2020" opacity="0.1" filter="url(#b4)"/>
<path d="M243.8,1170.7 L243.7,1171.5 L243.4,1172.0 L242.9,1172.4 L242.1,1172.7 L241.2,1173.0 L240.0,1173.3 L238.7,1173.5 L237.1,1173.7 L235.2,1173.8 L233.0,1173.9 L230.3,1173.9 L225.6,1174.0 L220.9,1173.9 L218.2,1173.9 L216.0,1173.8 L214.1,1173.7 L212.5,1173.5 L211.2,1173.3 L210.0,1173.0 L209.1,1172.7 L208.3,1172.4 L207.8,1172.0 L207.5,1171.5 L207.4,1170.7 L207.5,1169.9 L207.8,1169.4 L208.3,1169.0 L209.1,1168.7 L210.0,1168.4 L211.2,1168.1 L212.5,1167.9 L214.1,1167.7 L216.0,1167.6 L218.2,1167.5 L220.9,1167.5 L225.6,1167.5 L230.3,1167.5 L233.0,1167.5 L235.2,1167.6 L237.1,1167.7 L238.7,1167.9 L240.0,1168.1 L241.2,1168.4 L242.1,1168.7 L242.9,1169.0 L243.4,1169.4 L243.7,1169.9 Z" fill="#3b4141" filter="url(#b1)"/>
<path d="M300.0,1170.7 L299.9,1171.5 L299.6,1171.9 L299.1,1172.3 L298.4,1172.6 L297.5,1172.9 L296.3,1173.1 L295.0,1173.3 L293.4,1173.4 L291.6,1173.5 L289.5,1173.6 L286.8,1173.7 L282.3,1173.7 L277.7,1173.7 L275.0,1173.6 L272.9,1173.5 L271.1,1173.4 L269.5,1173.3 L268.2,1173.1 L267.0,1172.9 L266.1,1172.6 L265.4,1172.3 L264.9,1171.9 L264.6,1171.5 L264.5,1170.7 L264.6,1169.9 L264.9,1169.5 L265.4,1169.1 L266.1,1168.8 L267.0,1168.5 L268.2,1168.3 L269.5,1168.1 L271.1,1168.0 L272.9,1167.9 L275.0,1167.8 L277.7,1167.7 L282.2,1167.7 L286.8,1167.7 L289.5,1167.8 L291.6,1167.9 L293.4,1168.0 L295.0,1168.1 L296.3,1168.3 L297.5,1168.5 L298.4,1168.8 L299.1,1169.1 L299.6,1169.5 L299.9,1169.9 Z" fill="#6a7171" filter="url(#b1)"/>
<path d="M357.9,1169.7 L357.8,1170.5 L357.5,1170.9 L356.9,1171.3 L356.2,1171.6 L355.2,1171.9 L354.1,1172.1 L352.7,1172.3 L351.0,1172.4 L349.1,1172.5 L346.9,1172.6 L344.1,1172.7 L339.3,1172.7 L334.5,1172.7 L331.7,1172.6 L329.5,1172.5 L327.6,1172.4 L325.9,1172.3 L324.5,1172.1 L323.4,1171.9 L322.4,1171.6 L321.7,1171.3 L321.1,1170.9 L320.8,1170.5 L320.7,1169.7 L320.8,1168.9 L321.1,1168.5 L321.7,1168.1 L322.4,1167.8 L323.4,1167.5 L324.5,1167.3 L325.9,1167.1 L327.6,1167.0 L329.5,1166.9 L331.7,1166.8 L334.5,1166.7 L339.3,1166.7 L344.1,1166.7 L346.9,1166.8 L349.1,1166.9 L351.0,1167.0 L352.7,1167.1 L354.1,1167.3 L355.2,1167.5 L356.2,1167.8 L356.9,1168.1 L357.5,1168.5 L357.8,1168.9 Z" fill="#7b8383" filter="url(#b1)"/>
<rect x="373.7" y="1140" width="46.8" height="51.8" rx="12" fill="#1a2020" opacity="0.5" filter="url(#b4)"/>
<rect x="373.7" y="1140" width="46.8" height="51.8" rx="12" fill="#0c0d0d" filter="url(#b1)"/>
<rect x="432" y="1139.3" width="39.7" height="44.6" rx="11" fill="#1a2020" opacity="0.5" filter="url(#b4)"/>
<rect x="432" y="1139.3" width="39.7" height="44.6" rx="11" fill="#0c0d0d" filter="url(#b1)"/>
<rect x="488.2" y="1130.6" width="35.3" height="49.0" rx="10" fill="#1a2020" opacity="0.5" filter="url(#b4)"/>
<rect x="488.2" y="1130.6" width="35.3" height="49.0" rx="10" fill="#0c0d0d" filter="url(#b1)"/>
<path d="M383.2,1227.0 L408.8,1227.0 A4.5,4.5 0 0 1 408.8,1236.0 L383.2,1236.0 A4.5,4.5 0 0 1 383.2,1227.0 Z" fill="#1a2020" opacity="0.15" filter="url(#b4)"/>
<path d="M383.2,1227.0 L408.8,1227.0 A4.5,4.5 0 0 1 408.8,1236.0 L383.2,1236.0 A4.5,4.5 0 0 1 383.2,1227.0 Z" fill="#5f6868" filter="url(#b2)"/>
<path d="M439.0,1221.7 L462.6,1221.7 A4.0,4.0 0 0 1 462.6,1229.7 L439.0,1229.7 A4.0,4.0 0 0 1 439.0,1221.7 Z" fill="#9aa3a3" filter="url(#b2)"/>
<path d="M495.5,1213.5 L515.5,1213.5 A4.5,4.5 0 0 1 515.5,1222.5 L495.5,1222.5 A4.5,4.5 0 0 1 495.5,1213.5 Z" fill="#1a2020" opacity="0.1" filter="url(#b4)"/>
<path d="M495.5,1213.5 L515.5,1213.5 A4.5,4.5 0 0 1 515.5,1222.5 L495.5,1222.5 A4.5,4.5 0 0 1 495.5,1213.5 Z" fill="#7b8585" filter="url(#b2)"/>
</g>
<g clip-path="url(#c2a)">
<rect x="574.6" y="906.8" width="183.9" height="139.0" fill="#d9e0e0"/>
<rect x="574.6" y="906.8" width="183.9" height="139.0" filter="url(#nzd)" opacity="0.55"/>
<rect x="574.6" y="906.8" width="183.9" height="139.0" filter="url(#nzl)" opacity="0.55"/>
<rect x="757.5" y="905.5" width="186.5" height="140.3" fill="#dae2e2"/>
<rect x="757.5" y="905.5" width="186.5" height="140.3" filter="url(#nzd)" opacity="0.55"/>
<rect x="757.5" y="905.5" width="186.5" height="140.3" filter="url(#nzl)" opacity="0.55"/>
<ellipse cx="773" cy="940" rx="15" ry="42" fill="#e7eded" filter="url(#b8)"/>
<path d="M600.1,961.4 L618.3,960.4 A8.9,8.9 0 0 1 618.3,978.2 Q609.2,981.7 600.1,979.2 A8.9,8.9 0 0 1 600.1,961.4 Z" fill="#1a2020" opacity="0.4" filter="url(#b4)"/>
<path d="M600.1,961.4 L618.3,960.4 A8.9,8.9 0 0 1 618.3,978.2 Q609.2,981.7 600.1,979.2 A8.9,8.9 0 0 1 600.1,961.4 Z" fill="#0c0d0d" filter="url(#b1)"/>
<path d="M653.9,958.2 L676.1,958.2 A7.2,7.2 0 0 1 676.1,972.6 Q665.0,974.6 653.9,972.6 A7.2,7.2 0 0 1 653.9,958.2 Z" fill="#1a2020" opacity="0.4" filter="url(#b4)"/>
<path d="M653.9,958.2 L676.1,958.2 A7.2,7.2 0 0 1 676.1,972.6 Q665.0,974.6 653.9,972.6 A7.2,7.2 0 0 1 653.9,958.2 Z" fill="#0c0d0d" filter="url(#b1)"/>
<path d="M709.2,956.9 L733.2,956.9 A7.5,7.5 0 0 1 733.2,971.9 Q721.2,973.9 709.2,971.9 A7.5,7.5 0 0 1 709.2,956.9 Z" fill="#1a2020" opacity="0.4" filter="url(#b4)"/>
<path d="M709.2,956.9 L733.2,956.9 A7.5,7.5 0 0 1 733.2,971.9 Q721.2,973.9 709.2,971.9 A7.5,7.5 0 0 1 709.2,956.9 Z" fill="#0c0d0d" filter="url(#b1)"/>
<path d="M600.0,996.0 L612.0,996.0 A3.2,3.2 0 0 1 612.0,1002.5 L600.0,1002.5 A3.2,3.2 0 0 1 600.0,996.0 Z" fill="#1a2020" opacity="0.1" filter="url(#b4)"/>
<path d="M600.0,996.0 L612.0,996.0 A3.2,3.2 0 0 1 612.0,1002.5 L600.0,1002.5 A3.2,3.2 0 0 1 600.0,996.0 Z" fill="#8b9393" filter="url(#b2)"/>
<path d="M656.0,993.2 L674.9,993.2 A3.2,3.2 0 0 1 674.9,999.8 L656.0,999.8 A3.2,3.2 0 0 1 656.0,993.2 Z" fill="#1a2020" opacity="0.1" filter="url(#b4)"/>
<path d="M656.0,993.2 L674.9,993.2 A3.2,3.2 0 0 1 674.9,999.8 L656.0,999.8 A3.2,3.2 0 0 1 656.0,993.2 Z" fill="#7b8484" filter="url(#b2)"/>
<path d="M712.6,991.5 L731.3,991.5 A3.0,3.0 0 0 1 731.3,997.5 L712.6,997.5 A3.0,3.0 0 0 1 712.6,991.5 Z" fill="#98a1a1" filter="url(#b2)"/>
<path d="M770.5,970.3 L789.5,970.3 A2.5,2.5 0 0 1 789.5,975.3 L770.5,975.3 A2.5,2.5 0 0 1 770.5,970.3 Z" fill="#c9d0d0" filter="url(#b2)"/>
<path d="M830.5,970.5 L855.5,970.5 A2.5,2.5 0 0 1 855.5,975.5 L830.5,975.5 A2.5,2.5 0 0 1 830.5,970.5 Z" fill="#c6cdcd" filter="url(#b2)"/>
<path d="M891.5,969.5 L909.5,969.5 A2.5,2.5 0 0 1 909.5,974.5 L891.5,974.5 A2.5,2.5 0 0 1 891.5,969.5 Z" fill="#c4cbcb" filter="url(#b2)"/>
</g>
<g clip-path="url(#c2c)">
<rect x="573" y="1072.1" width="366.0" height="198.9" fill="#d6dede"/>
<rect x="573" y="1072.1" width="366.0" height="198.9" filter="url(#nzd)" opacity="0.55"/>
<rect x="573" y="1072.1" width="366.0" height="198.9" filter="url(#nzl)" opacity="0.55"/>
<rect x="592.5" y="1062" width="30.0" height="66.0" rx="4" fill="#c2caca" filter="url(#b4)"/>
<rect x="592.5" y="1128" width="30.0" height="122.0" rx="4" fill="#cdd4d4" filter="url(#b4)" opacity="0.7"/>
<rect x="650.2" y="1062" width="30.0" height="66.0" rx="4" fill="#c2caca" filter="url(#b4)"/>
<rect x="650.2" y="1128" width="30.0" height="122.0" rx="4" fill="#cdd4d4" filter="url(#b4)" opacity="0.7"/>
<rect x="703.5" y="1062" width="30.0" height="66.0" rx="4" fill="#c2caca" filter="url(#b4)"/>
<rect x="703.5" y="1128" width="30.0" height="122.0" rx="4" fill="#cdd4d4" filter="url(#b4)" opacity="0.7"/>
<path d="M622.0,1132.0 L621.9,1132.9 L621.6,1133.4 L621.2,1133.8 L620.6,1134.2 L619.7,1134.5 L618.7,1134.8 L617.5,1135.0 L616.1,1135.2 L614.5,1135.3 L612.6,1135.4 L610.2,1135.5 L606.2,1135.5 L602.1,1135.5 L599.7,1135.4 L597.8,1135.3 L596.2,1135.2 L594.8,1135.0 L593.6,1134.8 L592.6,1134.5 L591.7,1134.2 L591.1,1133.8 L590.7,1133.4 L590.4,1132.9 L590.3,1132.0 L590.4,1131.1 L590.7,1130.6 L591.1,1130.2 L591.7,1129.8 L592.6,1129.5 L593.6,1129.2 L594.8,1129.0 L596.2,1128.8 L597.8,1128.7 L599.7,1128.6 L602.1,1128.5 L606.1,1128.5 L610.2,1128.5 L612.6,1128.6 L614.5,1128.7 L616.1,1128.8 L617.5,1129.0 L618.7,1129.2 L619.7,1129.5 L620.6,1129.8 L621.2,1130.2 L621.6,1130.6 L621.9,1131.1 Z" fill="#1a2020" opacity="0.3" filter="url(#b4)"/>
<path d="M622.0,1132.0 L621.9,1132.9 L621.6,1133.4 L621.2,1133.8 L620.6,1134.2 L619.7,1134.5 L618.7,1134.8 L617.5,1135.0 L616.1,1135.2 L614.5,1135.3 L612.6,1135.4 L610.2,1135.5 L606.2,1135.5 L602.1,1135.5 L599.7,1135.4 L597.8,1135.3 L596.2,1135.2 L594.8,1135.0 L593.6,1134.8 L592.6,1134.5 L591.7,1134.2 L591.1,1133.8 L590.7,1133.4 L590.4,1132.9 L590.3,1132.0 L590.4,1131.1 L590.7,1130.6 L591.1,1130.2 L591.7,1129.8 L592.6,1129.5 L593.6,1129.2 L594.8,1129.0 L596.2,1128.8 L597.8,1128.7 L599.7,1128.6 L602.1,1128.5 L606.1,1128.5 L610.2,1128.5 L612.6,1128.6 L614.5,1128.7 L616.1,1128.8 L617.5,1129.0 L618.7,1129.2 L619.7,1129.5 L620.6,1129.8 L621.2,1130.2 L621.6,1130.6 L621.9,1131.1 Z" fill="#0c0d0d" filter="url(#b1)"/>
<path d="M676.7,1130.6 L676.6,1131.6 L676.4,1132.2 L676.1,1132.7 L675.6,1133.1 L675.1,1133.5 L674.3,1133.8 L673.5,1134.0 L672.4,1134.2 L671.3,1134.4 L669.9,1134.5 L668.2,1134.6 L665.2,1134.6 L662.2,1134.6 L660.5,1134.5 L659.1,1134.4 L658.0,1134.2 L656.9,1134.0 L656.1,1133.8 L655.3,1133.5 L654.8,1133.1 L654.3,1132.7 L654.0,1132.2 L653.8,1131.6 L653.7,1130.6 L653.8,1129.6 L654.0,1129.0 L654.3,1128.5 L654.8,1128.1 L655.3,1127.7 L656.1,1127.4 L656.9,1127.2 L658.0,1127.0 L659.1,1126.8 L660.5,1126.7 L662.2,1126.6 L665.2,1126.6 L668.2,1126.6 L669.9,1126.7 L671.3,1126.8 L672.4,1127.0 L673.5,1127.2 L674.3,1127.4 L675.1,1127.7 L675.6,1128.1 L676.1,1128.5 L676.4,1129.0 L676.6,1129.6 Z" fill="#1a2020" opacity="0.3" filter="url(#b4)"/>
<path d="M676.7,1130.6 L676.6,1131.6 L676.4,1132.2 L676.1,1132.7 L675.6,1133.1 L675.1,1133.5 L674.3,1133.8 L673.5,1134.0 L672.4,1134.2 L671.3,1134.4 L669.9,1134.5 L668.2,1134.6 L665.2,1134.6 L662.2,1134.6 L660.5,1134.5 L659.1,1134.4 L658.0,1134.2 L656.9,1134.0 L656.1,1133.8 L655.3,1133.5 L654.8,1133.1 L654.3,1132.7 L654.0,1132.2 L653.8,1131.6 L653.7,1130.6 L653.8,1129.6 L654.0,1129.0 L654.3,1128.5 L654.8,1128.1 L655.3,1127.7 L656.1,1127.4 L656.9,1127.2 L658.0,1127.0 L659.1,1126.8 L660.5,1126.7 L662.2,1126.6 L665.2,1126.6 L668.2,1126.6 L669.9,1126.7 L671.3,1126.8 L672.4,1127.0 L673.5,1127.2 L674.3,1127.4 L675.1,1127.7 L675.6,1128.1 L676.1,1128.5 L676.4,1129.0 L676.6,1129.6 Z" fill="#0c0d0d" filter="url(#b1)"/>
<path d="M731.5,1131.5 L731.4,1132.7 L731.2,1133.3 L730.8,1133.9 L730.3,1134.3 L729.6,1134.7 L728.8,1135.1 L727.8,1135.4 L726.7,1135.6 L725.4,1135.8 L723.8,1135.9 L721.8,1136.0 L718.5,1136.0 L715.2,1136.0 L713.2,1135.9 L711.6,1135.8 L710.3,1135.6 L709.2,1135.4 L708.2,1135.1 L707.4,1134.7 L706.7,1134.3 L706.2,1133.9 L705.8,1133.3 L705.6,1132.7 L705.5,1131.5 L705.6,1130.3 L705.8,1129.7 L706.2,1129.1 L706.7,1128.7 L707.4,1128.3 L708.2,1127.9 L709.2,1127.6 L710.3,1127.4 L711.6,1127.2 L713.2,1127.1 L715.2,1127.0 L718.5,1127.0 L721.8,1127.0 L723.8,1127.1 L725.4,1127.2 L726.7,1127.4 L727.8,1127.6 L728.8,1127.9 L729.6,1128.3 L730.3,1128.7 L730.8,1129.1 L731.2,1129.7 L731.4,1130.3 Z" fill="#1a2020" opacity="0.3" filter="url(#b4)"/>
<path d="M731.5,1131.5 L731.4,1132.7 L731.2,1133.3 L730.8,1133.9 L730.3,1134.3 L729.6,1134.7 L728.8,1135.1 L727.8,1135.4 L726.7,1135.6 L725.4,1135.8 L723.8,1135.9 L721.8,1136.0 L718.5,1136.0 L715.2,1136.0 L713.2,1135.9 L711.6,1135.8 L710.3,1135.6 L709.2,1135.4 L708.2,1135.1 L707.4,1134.7 L706.7,1134.3 L706.2,1133.9 L705.8,1133.3 L705.6,1132.7 L705.5,1131.5 L705.6,1130.3 L705.8,1129.7 L706.2,1129.1 L706.7,1128.7 L707.4,1128.3 L708.2,1127.9 L709.2,1127.6 L710.3,1127.4 L711.6,1127.2 L713.2,1127.1 L715.2,1127.0 L718.5,1127.0 L721.8,1127.0 L723.8,1127.1 L725.4,1127.2 L726.7,1127.4 L727.8,1127.6 L728.8,1127.9 L729.6,1128.3 L730.3,1128.7 L730.8,1129.1 L731.2,1129.7 L731.4,1130.3 Z" fill="#0c0d0d" filter="url(#b1)"/>
<path d="M657.7,1162.6 L675.6,1162.6 A4.0,4.0 0 0 1 675.6,1170.6 L657.7,1170.6 A4.0,4.0 0 0 1 657.7,1162.6 Z" fill="#adb5b5" filter="url(#b2)"/>
<path d="M711.0,1162.6 L729.0,1162.6 A4.0,4.0 0 0 1 729.0,1170.6 L711.0,1170.6 A4.0,4.0 0 0 1 711.0,1162.6 Z" fill="#adb5b5" filter="url(#b2)"/>
<path d="M626.3,1178.2 L626.2,1179.5 L625.9,1180.2 L625.4,1180.8 L624.7,1181.3 L623.8,1181.8 L622.7,1182.2 L621.4,1182.5 L619.9,1182.7 L618.1,1182.9 L616.0,1183.1 L613.5,1183.2 L609.0,1183.2 L604.5,1183.2 L602.0,1183.1 L599.9,1182.9 L598.1,1182.7 L596.6,1182.5 L595.3,1182.2 L594.2,1181.8 L593.3,1181.3 L592.6,1180.8 L592.1,1180.2 L591.8,1179.5 L591.7,1178.2 L591.8,1176.9 L592.1,1176.2 L592.6,1175.6 L593.3,1175.1 L594.2,1174.6 L595.3,1174.2 L596.6,1173.9 L598.1,1173.7 L599.9,1173.5 L602.0,1173.3 L604.5,1173.2 L609.0,1173.2 L613.5,1173.2 L616.0,1173.3 L618.1,1173.5 L619.9,1173.7 L621.4,1173.9 L622.7,1174.2 L623.8,1174.6 L624.7,1175.1 L625.4,1175.6 L625.9,1176.2 L626.2,1176.9 Z" fill="#1a2020" opacity="0.35" filter="url(#b4)"/>
<path d="M626.3,1178.2 L626.2,1179.5 L625.9,1180.2 L625.4,1180.8 L624.7,1181.3 L623.8,1181.8 L622.7,1182.2 L621.4,1182.5 L619.9,1182.7 L618.1,1182.9 L616.0,1183.1 L613.5,1183.2 L609.0,1183.2 L604.5,1183.2 L602.0,1183.1 L599.9,1182.9 L598.1,1182.7 L596.6,1182.5 L595.3,1182.2 L594.2,1181.8 L593.3,1181.3 L592.6,1180.8 L592.1,1180.2 L591.8,1179.5 L591.7,1178.2 L591.8,1176.9 L592.1,1176.2 L592.6,1175.6 L593.3,1175.1 L594.2,1174.6 L595.3,1174.2 L596.6,1173.9 L598.1,1173.7 L599.9,1173.5 L602.0,1173.3 L604.5,1173.2 L609.0,1173.2 L613.5,1173.2 L616.0,1173.3 L618.1,1173.5 L619.9,1173.7 L621.4,1173.9 L622.7,1174.2 L623.8,1174.6 L624.7,1175.1 L625.4,1175.6 L625.9,1176.2 L626.2,1176.9 Z" fill="#0c0d0d" filter="url(#b1)"/>
<path d="M679.6,1179.6 L679.5,1181.1 L679.3,1182.0 L678.9,1182.8 L678.4,1183.4 L677.7,1183.9 L676.9,1184.4 L676.0,1184.7 L674.8,1185.1 L673.5,1185.3 L671.9,1185.5 L670.0,1185.6 L666.7,1185.6 L663.3,1185.6 L661.4,1185.5 L659.8,1185.3 L658.5,1185.1 L657.3,1184.7 L656.4,1184.4 L655.6,1183.9 L654.9,1183.4 L654.4,1182.8 L654.0,1182.0 L653.8,1181.1 L653.7,1179.6 L653.8,1178.1 L654.0,1177.2 L654.4,1176.4 L654.9,1175.8 L655.6,1175.3 L656.4,1174.8 L657.3,1174.5 L658.5,1174.1 L659.8,1173.9 L661.4,1173.7 L663.3,1173.6 L666.6,1173.6 L670.0,1173.6 L671.9,1173.7 L673.5,1173.9 L674.8,1174.1 L676.0,1174.5 L676.9,1174.8 L677.7,1175.3 L678.4,1175.8 L678.9,1176.4 L679.3,1177.2 L679.5,1178.1 Z" fill="#1a2020" opacity="0.35" filter="url(#b4)"/>
<path d="M679.6,1179.6 L679.5,1181.1 L679.3,1182.0 L678.9,1182.8 L678.4,1183.4 L677.7,1183.9 L676.9,1184.4 L676.0,1184.7 L674.8,1185.1 L673.5,1185.3 L671.9,1185.5 L670.0,1185.6 L666.7,1185.6 L663.3,1185.6 L661.4,1185.5 L659.8,1185.3 L658.5,1185.1 L657.3,1184.7 L656.4,1184.4 L655.6,1183.9 L654.9,1183.4 L654.4,1182.8 L654.0,1182.0 L653.8,1181.1 L653.7,1179.6 L653.8,1178.1 L654.0,1177.2 L654.4,1176.4 L654.9,1175.8 L655.6,1175.3 L656.4,1174.8 L657.3,1174.5 L658.5,1174.1 L659.8,1173.9 L661.4,1173.7 L663.3,1173.6 L666.6,1173.6 L670.0,1173.6 L671.9,1173.7 L673.5,1173.9 L674.8,1174.1 L676.0,1174.5 L676.9,1174.8 L677.7,1175.3 L678.4,1175.8 L678.9,1176.4 L679.3,1177.2 L679.5,1178.1 Z" fill="#0c0d0d" filter="url(#b1)"/>
<path d="M733.0,1181.0 L732.9,1182.4 L732.7,1183.1 L732.3,1183.8 L731.8,1184.3 L731.1,1184.8 L730.3,1185.2 L729.3,1185.5 L728.2,1185.8 L726.9,1186.0 L725.3,1186.1 L723.3,1186.2 L720.0,1186.2 L716.7,1186.2 L714.7,1186.1 L713.1,1186.0 L711.8,1185.8 L710.7,1185.5 L709.7,1185.2 L708.9,1184.8 L708.2,1184.3 L707.7,1183.8 L707.3,1183.1 L707.1,1182.4 L707.0,1181.0 L707.1,1179.6 L707.3,1178.9 L707.7,1178.2 L708.2,1177.7 L708.9,1177.2 L709.7,1176.8 L710.7,1176.5 L711.8,1176.2 L713.1,1176.0 L714.7,1175.9 L716.7,1175.8 L720.0,1175.8 L723.3,1175.8 L725.3,1175.9 L726.9,1176.0 L728.2,1176.2 L729.3,1176.5 L730.3,1176.8 L731.1,1177.2 L731.8,1177.7 L732.3,1178.2 L732.7,1178.9 L732.9,1179.6 Z" fill="#1a2020" opacity="0.35" filter="url(#b4)"/>
<path d="M733.0,1181.0 L732.9,1182.4 L732.7,1183.1 L732.3,1183.8 L731.8,1184.3 L731.1,1184.8 L730.3,1185.2 L729.3,1185.5 L728.2,1185.8 L726.9,1186.0 L725.3,1186.1 L723.3,1186.2 L720.0,1186.2 L716.7,1186.2 L714.7,1186.1 L713.1,1186.0 L711.8,1185.8 L710.7,1185.5 L709.7,1185.2 L708.9,1184.8 L708.2,1184.3 L707.7,1183.8 L707.3,1183.1 L707.1,1182.4 L707.0,1181.0 L707.1,1179.6 L707.3,1178.9 L707.7,1178.2 L708.2,1177.7 L708.9,1177.2 L709.7,1176.8 L710.7,1176.5 L711.8,1176.2 L713.1,1176.0 L714.7,1175.9 L716.7,1175.8 L720.0,1175.8 L723.3,1175.8 L725.3,1175.9 L726.9,1176.0 L728.2,1176.2 L729.3,1176.5 L730.3,1176.8 L731.1,1177.2 L731.8,1177.7 L732.3,1178.2 L732.7,1178.9 L732.9,1179.6 Z" fill="#0c0d0d" filter="url(#b1)"/>
<path d="M600.1,1227.5 L616.5,1227.5 A5.5,5.5 0 0 1 616.5,1238.5 L600.1,1238.5 A5.5,5.5 0 0 1 600.1,1227.5 Z" fill="#b0b8b8" filter="url(#b3)"/>
<path d="M658.5,1227.5 L672.5,1227.5 A5.5,5.5 0 0 1 672.5,1238.5 L658.5,1238.5 A5.5,5.5 0 0 1 658.5,1227.5 Z" fill="#b0b8b8" filter="url(#b3)"/>
<path d="M710.5,1227.5 L727.5,1227.5 A5.5,5.5 0 0 1 727.5,1238.5 L710.5,1238.5 A5.5,5.5 0 0 1 710.5,1227.5 Z" fill="#b0b8b8" filter="url(#b3)"/>
<rect x="761.3" y="1176.8" width="26.8" height="35.2" rx="8" fill="#8a9393" filter="url(#b4)"/>
<rect x="760.3" y="1162.3" width="28.8" height="24.5" rx="10" fill="#1a2020" opacity="0.45" filter="url(#b4)"/>
<rect x="760.3" y="1162.3" width="28.8" height="24.5" rx="10" fill="#0c0d0d" filter="url(#b1)"/>
<rect x="814.6" y="1179.7" width="31.1" height="32.3" rx="8" fill="#8a9393" filter="url(#b4)"/>
<rect x="813.6" y="1155.1" width="33.1" height="34.6" rx="10" fill="#1a2020" opacity="0.45" filter="url(#b4)"/>
<rect x="813.6" y="1155.1" width="33.1" height="34.6" rx="10" fill="#0c0d0d" filter="url(#b1)"/>
<rect x="882.3" y="1178.2" width="26.8" height="33.8" rx="8" fill="#8a9393" filter="url(#b4)"/>
<rect x="881.3" y="1159.4" width="28.8" height="28.8" rx="10" fill="#1a2020" opacity="0.45" filter="url(#b4)"/>
<rect x="881.3" y="1159.4" width="28.8" height="28.8" rx="10" fill="#0c0d0d" filter="url(#b1)"/>
</g>
<g clip-path="url(#c3a)">
<rect x="969.3" y="903.6" width="178.2" height="137.3" fill="#d9e0e0"/>
<rect x="969.3" y="903.6" width="178.2" height="137.3" filter="url(#nzd)" opacity="0.55"/>
<rect x="969.3" y="903.6" width="178.2" height="137.3" filter="url(#nzl)" opacity="0.55"/>
<rect x="1146.5" y="903.6" width="184.0" height="137.3" fill="#e2e8e8"/>
<rect x="1146.5" y="903.6" width="184.0" height="137.3" filter="url(#nzd)" opacity="0.55"/>
<rect x="1146.5" y="903.6" width="184.0" height="137.3" filter="url(#nzl)" opacity="0.55"/>
<path d="M989.0,960.8 L1011.9,960.8 A6.8,6.8 0 0 1 1011.9,974.2 Q1000.4,976.2 989.0,974.2 A6.8,6.8 0 0 1 989.0,960.8 Z" fill="#1a2020" opacity="0.35" filter="url(#b4)"/>
<path d="M989.0,960.8 L1011.9,960.8 A6.8,6.8 0 0 1 1011.9,974.2 Q1000.4,976.2 989.0,974.2 A6.8,6.8 0 0 1 989.0,960.8 Z" fill="#0c0d0d" filter="url(#b1)"/>
<path d="M1042.2,961.6 L1068.0,961.6 A6.8,6.8 0 0 1 1068.0,975.1 Q1055.1,977.1 1042.2,975.1 A6.8,6.8 0 0 1 1042.2,961.6 Z" fill="#1a2020" opacity="0.35" filter="url(#b4)"/>
<path d="M1042.2,961.6 L1068.0,961.6 A6.8,6.8 0 0 1 1068.0,975.1 Q1055.1,977.1 1042.2,975.1 A6.8,6.8 0 0 1 1042.2,961.6 Z" fill="#0c0d0d" filter="url(#b1)"/>
<path d="M1102.3,960.8 L1128.2,960.8 A8.2,8.2 0 0 1 1128.2,977.2 Q1115.2,979.2 1102.3,977.2 A8.2,8.2 0 0 1 1102.3,960.8 Z" fill="#1a2020" opacity="0.35" filter="url(#b4)"/>
<path d="M1102.3,960.8 L1128.2,960.8 A8.2,8.2 0 0 1 1128.2,977.2 Q1115.2,979.2 1102.3,977.2 A8.2,8.2 0 0 1 1102.3,960.8 Z" fill="#0c0d0d" filter="url(#b1)"/>
<path d="M1156.6,964.5 L1180.6,964.5 A3.0,3.0 0 0 1 1180.6,970.5 L1156.6,970.5 A3.0,3.0 0 0 1 1156.6,964.5 Z" fill="#1a2020" opacity="0.1" filter="url(#b4)"/>
<path d="M1156.6,964.5 L1180.6,964.5 A3.0,3.0 0 0 1 1180.6,970.5 L1156.6,970.5 A3.0,3.0 0 0 1 1156.6,964.5 Z" fill="#7a8383" filter="url(#b1)"/>
<path d="M1223.8,966.4 L1249.8,966.4 A3.2,3.2 0 0 1 1249.8,972.9 L1223.8,972.9 A3.2,3.2 0 0 1 1223.8,966.4 Z" fill="#1a2020" opacity="0.1" filter="url(#b4)"/>
<path d="M1223.8,966.4 L1249.8,966.4 A3.2,3.2 0 0 1 1249.8,972.9 L1223.8,972.9 A3.2,3.2 0 0 1 1223.8,966.4 Z" fill="#788181" filter="url(#b1)"/>
<path d="M1292.0,972.6 L1309.5,972.6 A2.0,2.0 0 0 1 1309.5,976.6 L1292.0,976.6 A2.0,2.0 0 0 1 1292.0,972.6 Z" fill="#bcc4c4" filter="url(#b1)"/>
</g>
<g clip-path="url(#c3c)">
<rect x="969.3" y="1073.3" width="359.8" height="198.5" fill="#d2dbdb"/>
<rect x="969.3" y="1073.3" width="359.8" height="198.5" filter="url(#nzd)" opacity="0.55"/>
<rect x="969.3" y="1073.3" width="359.8" height="198.5" filter="url(#nzl)" opacity="0.55"/>
<rect x="987" y="1062" width="26.0" height="50.0" rx="4" fill="#a0acab" filter="url(#b4)"/>
<rect x="987" y="1100" width="26.0" height="140.0" rx="4" fill="#cad2d2" filter="url(#b4)"/>
<rect x="1045" y="1062" width="26.0" height="50.0" rx="4" fill="#a0acab" filter="url(#b4)"/>
<rect x="1045" y="1100" width="26.0" height="140.0" rx="4" fill="#cad2d2" filter="url(#b4)"/>
<rect x="1104.3" y="1062" width="26.0" height="50.0" rx="4" fill="#a0acab" filter="url(#b4)"/>
<rect x="1104.3" y="1100" width="26.0" height="140.0" rx="4" fill="#cad2d2" filter="url(#b4)"/>
<path d="M1010.9,1116.4 L1010.8,1117.2 L1010.7,1117.6 L1010.3,1118.0 L1009.9,1118.3 L1009.4,1118.6 L1008.7,1118.8 L1007.9,1119.0 L1006.9,1119.1 L1005.8,1119.2 L1004.5,1119.3 L1002.9,1119.4 L1000.1,1119.4 L997.3,1119.4 L995.7,1119.3 L994.4,1119.2 L993.3,1119.1 L992.3,1119.0 L991.5,1118.8 L990.8,1118.6 L990.3,1118.3 L989.9,1118.0 L989.5,1117.6 L989.4,1117.2 L989.3,1116.4 L989.4,1115.6 L989.5,1115.2 L989.9,1114.8 L990.3,1114.5 L990.8,1114.2 L991.5,1114.0 L992.3,1113.8 L993.3,1113.7 L994.4,1113.6 L995.7,1113.5 L997.3,1113.4 L1000.1,1113.4 L1002.9,1113.4 L1004.5,1113.5 L1005.8,1113.6 L1006.9,1113.7 L1007.9,1113.8 L1008.7,1114.0 L1009.4,1114.2 L1009.9,1114.5 L1010.3,1114.8 L1010.7,1115.2 L1010.8,1115.6 Z" fill="#1a2020" opacity="0.15" filter="url(#b4)"/>
<path d="M1010.9,1116.4 L1010.8,1117.2 L1010.7,1117.6 L1010.3,1118.0 L1009.9,1118.3 L1009.4,1118.6 L1008.7,1118.8 L1007.9,1119.0 L1006.9,1119.1 L1005.8,1119.2 L1004.5,1119.3 L1002.9,1119.4 L1000.1,1119.4 L997.3,1119.4 L995.7,1119.3 L994.4,1119.2 L993.3,1119.1 L992.3,1119.0 L991.5,1118.8 L990.8,1118.6 L990.3,1118.3 L989.9,1118.0 L989.5,1117.6 L989.4,1117.2 L989.3,1116.4 L989.4,1115.6 L989.5,1115.2 L989.9,1114.8 L990.3,1114.5 L990.8,1114.2 L991.5,1114.0 L992.3,1113.8 L993.3,1113.7 L994.4,1113.6 L995.7,1113.5 L997.3,1113.4 L1000.1,1113.4 L1002.9,1113.4 L1004.5,1113.5 L1005.8,1113.6 L1006.9,1113.7 L1007.9,1113.8 L1008.7,1114.0 L1009.4,1114.2 L1009.9,1114.5 L1010.3,1114.8 L1010.7,1115.2 L1010.8,1115.6 Z" fill="#3f4646" filter="url(#b1)"/>
<path d="M1069.5,1119.2 L1069.4,1120.3 L1069.3,1120.9 L1068.9,1121.4 L1068.5,1121.9 L1068.0,1122.3 L1067.3,1122.6 L1066.5,1122.8 L1065.5,1123.1 L1064.4,1123.2 L1063.1,1123.4 L1061.5,1123.4 L1058.7,1123.5 L1055.9,1123.4 L1054.3,1123.4 L1053.0,1123.2 L1051.9,1123.1 L1050.9,1122.8 L1050.1,1122.6 L1049.4,1122.3 L1048.9,1121.9 L1048.5,1121.4 L1048.1,1120.9 L1048.0,1120.3 L1047.9,1119.2 L1048.0,1118.1 L1048.1,1117.5 L1048.5,1117.0 L1048.9,1116.5 L1049.4,1116.1 L1050.1,1115.8 L1050.9,1115.6 L1051.9,1115.3 L1053.0,1115.2 L1054.3,1115.0 L1055.9,1115.0 L1058.7,1115.0 L1061.5,1115.0 L1063.1,1115.0 L1064.4,1115.2 L1065.5,1115.3 L1066.5,1115.6 L1067.3,1115.8 L1068.0,1116.1 L1068.5,1116.5 L1068.9,1117.0 L1069.3,1117.5 L1069.4,1118.1 Z" fill="#1a2020" opacity="0.3" filter="url(#b4)"/>
<path d="M1069.5,1119.2 L1069.4,1120.3 L1069.3,1120.9 L1068.9,1121.4 L1068.5,1121.9 L1068.0,1122.3 L1067.3,1122.6 L1066.5,1122.8 L1065.5,1123.1 L1064.4,1123.2 L1063.1,1123.4 L1061.5,1123.4 L1058.7,1123.5 L1055.9,1123.4 L1054.3,1123.4 L1053.0,1123.2 L1051.9,1123.1 L1050.9,1122.8 L1050.1,1122.6 L1049.4,1122.3 L1048.9,1121.9 L1048.5,1121.4 L1048.1,1120.9 L1048.0,1120.3 L1047.9,1119.2 L1048.0,1118.1 L1048.1,1117.5 L1048.5,1117.0 L1048.9,1116.5 L1049.4,1116.1 L1050.1,1115.8 L1050.9,1115.6 L1051.9,1115.3 L1053.0,1115.2 L1054.3,1115.0 L1055.9,1115.0 L1058.7,1115.0 L1061.5,1115.0 L1063.1,1115.0 L1064.4,1115.2 L1065.5,1115.3 L1066.5,1115.6 L1067.3,1115.8 L1068.0,1116.1 L1068.5,1116.5 L1068.9,1117.0 L1069.3,1117.5 L1069.4,1118.1 Z" fill="#0c0d0d" filter="url(#b1)"/>
<path d="M1128.0,1121.7 L1127.9,1122.7 L1127.8,1123.2 L1127.5,1123.7 L1127.1,1124.1 L1126.6,1124.4 L1125.9,1124.7 L1125.2,1124.9 L1124.3,1125.1 L1123.3,1125.3 L1122.1,1125.4 L1120.6,1125.4 L1118.0,1125.5 L1115.4,1125.4 L1113.9,1125.4 L1112.7,1125.3 L1111.7,1125.1 L1110.8,1124.9 L1110.1,1124.7 L1109.4,1124.4 L1108.9,1124.1 L1108.5,1123.7 L1108.2,1123.2 L1108.1,1122.7 L1108.0,1121.7 L1108.1,1120.7 L1108.2,1120.2 L1108.5,1119.7 L1108.9,1119.3 L1109.4,1119.0 L1110.1,1118.7 L1110.8,1118.5 L1111.7,1118.3 L1112.7,1118.1 L1113.9,1118.0 L1115.4,1118.0 L1118.0,1118.0 L1120.6,1118.0 L1122.1,1118.0 L1123.3,1118.1 L1124.3,1118.3 L1125.2,1118.5 L1125.9,1118.7 L1126.6,1119.0 L1127.1,1119.3 L1127.5,1119.7 L1127.8,1120.2 L1127.9,1120.7 Z" fill="#1a2020" opacity="0.3" filter="url(#b4)"/>
<path d="M1128.0,1121.7 L1127.9,1122.7 L1127.8,1123.2 L1127.5,1123.7 L1127.1,1124.1 L1126.6,1124.4 L1125.9,1124.7 L1125.2,1124.9 L1124.3,1125.1 L1123.3,1125.3 L1122.1,1125.4 L1120.6,1125.4 L1118.0,1125.5 L1115.4,1125.4 L1113.9,1125.4 L1112.7,1125.3 L1111.7,1125.1 L1110.8,1124.9 L1110.1,1124.7 L1109.4,1124.4 L1108.9,1124.1 L1108.5,1123.7 L1108.2,1123.2 L1108.1,1122.7 L1108.0,1121.7 L1108.1,1120.7 L1108.2,1120.2 L1108.5,1119.7 L1108.9,1119.3 L1109.4,1119.0 L1110.1,1118.7 L1110.8,1118.5 L1111.7,1118.3 L1112.7,1118.1 L1113.9,1118.0 L1115.4,1118.0 L1118.0,1118.0 L1120.6,1118.0 L1122.1,1118.0 L1123.3,1118.1 L1124.3,1118.3 L1125.2,1118.5 L1125.9,1118.7 L1126.6,1119.0 L1127.1,1119.3 L1127.5,1119.7 L1127.8,1120.2 L1127.9,1120.7 Z" fill="#0c0d0d" filter="url(#b1)"/>
<path d="M990.0,1147.0 L1006.0,1147.0 A4.0,4.0 0 0 1 1006.0,1155.0 L990.0,1155.0 A4.0,4.0 0 0 1 990.0,1147.0 Z" fill="#b3bbbb" filter="url(#b2)"/>
<path d="M1049.0,1147.0 L1065.0,1147.0 A4.0,4.0 0 0 1 1065.0,1155.0 L1049.0,1155.0 A4.0,4.0 0 0 1 1049.0,1147.0 Z" fill="#b3bbbb" filter="url(#b2)"/>
<path d="M1109.0,1147.0 L1125.0,1147.0 A4.0,4.0 0 0 1 1125.0,1155.0 L1109.0,1155.0 A4.0,4.0 0 0 1 1109.0,1147.0 Z" fill="#b3bbbb" filter="url(#b2)"/>
<path d="M1009.3,1164.8 L1009.2,1166.0 L1009.0,1166.6 L1008.7,1167.2 L1008.2,1167.6 L1007.6,1168.0 L1006.9,1168.4 L1006.0,1168.7 L1005.0,1168.9 L1003.8,1169.1 L1002.4,1169.2 L1000.7,1169.3 L997.8,1169.3 L994.8,1169.3 L993.1,1169.2 L991.7,1169.1 L990.5,1168.9 L989.5,1168.7 L988.6,1168.4 L987.9,1168.0 L987.3,1167.6 L986.8,1167.2 L986.5,1166.6 L986.3,1166.0 L986.2,1164.8 L986.3,1163.6 L986.5,1163.0 L986.8,1162.4 L987.3,1162.0 L987.9,1161.6 L988.6,1161.2 L989.5,1160.9 L990.5,1160.7 L991.7,1160.5 L993.1,1160.4 L994.8,1160.3 L997.7,1160.3 L1000.7,1160.3 L1002.4,1160.4 L1003.8,1160.5 L1005.0,1160.7 L1006.0,1160.9 L1006.9,1161.2 L1007.6,1161.6 L1008.2,1162.0 L1008.7,1162.4 L1009.0,1163.0 L1009.2,1163.6 Z" fill="#1a2020" opacity="0.3" filter="url(#b4)"/>
<path d="M1009.3,1164.8 L1009.2,1166.0 L1009.0,1166.6 L1008.7,1167.2 L1008.2,1167.6 L1007.6,1168.0 L1006.9,1168.4 L1006.0,1168.7 L1005.0,1168.9 L1003.8,1169.1 L1002.4,1169.2 L1000.7,1169.3 L997.8,1169.3 L994.8,1169.3 L993.1,1169.2 L991.7,1169.1 L990.5,1168.9 L989.5,1168.7 L988.6,1168.4 L987.9,1168.0 L987.3,1167.6 L986.8,1167.2 L986.5,1166.6 L986.3,1166.0 L986.2,1164.8 L986.3,1163.6 L986.5,1163.0 L986.8,1162.4 L987.3,1162.0 L987.9,1161.6 L988.6,1161.2 L989.5,1160.9 L990.5,1160.7 L991.7,1160.5 L993.1,1160.4 L994.8,1160.3 L997.7,1160.3 L1000.7,1160.3 L1002.4,1160.4 L1003.8,1160.5 L1005.0,1160.7 L1006.0,1160.9 L1006.9,1161.2 L1007.6,1161.6 L1008.2,1162.0 L1008.7,1162.4 L1009.0,1163.0 L1009.2,1163.6 Z" fill="#0c0d0d" filter="url(#b1)"/>
<path d="M1069.5,1167.3 L1069.4,1168.8 L1069.2,1169.6 L1068.9,1170.3 L1068.4,1170.9 L1067.7,1171.4 L1067.0,1171.9 L1066.0,1172.2 L1064.9,1172.5 L1063.7,1172.8 L1062.2,1172.9 L1060.3,1173.0 L1057.2,1173.0 L1054.0,1173.0 L1052.1,1172.9 L1050.6,1172.8 L1049.4,1172.5 L1048.3,1172.2 L1047.3,1171.9 L1046.6,1171.4 L1045.9,1170.9 L1045.4,1170.3 L1045.1,1169.6 L1044.9,1168.8 L1044.8,1167.3 L1044.9,1165.8 L1045.1,1165.0 L1045.4,1164.3 L1045.9,1163.7 L1046.6,1163.2 L1047.3,1162.7 L1048.3,1162.4 L1049.4,1162.1 L1050.6,1161.8 L1052.1,1161.7 L1054.0,1161.6 L1057.1,1161.5 L1060.3,1161.6 L1062.2,1161.7 L1063.7,1161.8 L1064.9,1162.1 L1066.0,1162.4 L1067.0,1162.7 L1067.7,1163.2 L1068.4,1163.7 L1068.9,1164.3 L1069.2,1165.0 L1069.4,1165.8 Z" fill="#1a2020" opacity="0.3" filter="url(#b4)"/>
<path d="M1069.5,1167.3 L1069.4,1168.8 L1069.2,1169.6 L1068.9,1170.3 L1068.4,1170.9 L1067.7,1171.4 L1067.0,1171.9 L1066.0,1172.2 L1064.9,1172.5 L1063.7,1172.8 L1062.2,1172.9 L1060.3,1173.0 L1057.2,1173.0 L1054.0,1173.0 L1052.1,1172.9 L1050.6,1172.8 L1049.4,1172.5 L1048.3,1172.2 L1047.3,1171.9 L1046.6,1171.4 L1045.9,1170.9 L1045.4,1170.3 L1045.1,1169.6 L1044.9,1168.8 L1044.8,1167.3 L1044.9,1165.8 L1045.1,1165.0 L1045.4,1164.3 L1045.9,1163.7 L1046.6,1163.2 L1047.3,1162.7 L1048.3,1162.4 L1049.4,1162.1 L1050.6,1161.8 L1052.1,1161.7 L1054.0,1161.6 L1057.1,1161.5 L1060.3,1161.6 L1062.2,1161.7 L1063.7,1161.8 L1064.9,1162.1 L1066.0,1162.4 L1067.0,1162.7 L1067.7,1163.2 L1068.4,1163.7 L1068.9,1164.3 L1069.2,1165.0 L1069.4,1165.8 Z" fill="#0c0d0d" filter="url(#b1)"/>
<path d="M1128.0,1169.5 L1127.9,1170.8 L1127.8,1171.5 L1127.4,1172.1 L1127.0,1172.6 L1126.5,1173.1 L1125.8,1173.5 L1125.0,1173.8 L1124.0,1174.0 L1122.9,1174.2 L1121.6,1174.4 L1120.0,1174.5 L1117.3,1174.5 L1114.5,1174.5 L1112.9,1174.4 L1111.6,1174.2 L1110.5,1174.0 L1109.5,1173.8 L1108.7,1173.5 L1108.0,1173.1 L1107.5,1172.6 L1107.1,1172.1 L1106.7,1171.5 L1106.6,1170.8 L1106.5,1169.5 L1106.6,1168.2 L1106.7,1167.5 L1107.1,1166.9 L1107.5,1166.4 L1108.0,1165.9 L1108.7,1165.5 L1109.5,1165.2 L1110.5,1165.0 L1111.6,1164.8 L1112.9,1164.6 L1114.5,1164.5 L1117.2,1164.5 L1120.0,1164.5 L1121.6,1164.6 L1122.9,1164.8 L1124.0,1165.0 L1125.0,1165.2 L1125.8,1165.5 L1126.5,1165.9 L1127.0,1166.4 L1127.4,1166.9 L1127.8,1167.5 L1127.9,1168.2 Z" fill="#1a2020" opacity="0.3" filter="url(#b4)"/>
<path d="M1128.0,1169.5 L1127.9,1170.8 L1127.8,1171.5 L1127.4,1172.1 L1127.0,1172.6 L1126.5,1173.1 L1125.8,1173.5 L1125.0,1173.8 L1124.0,1174.0 L1122.9,1174.2 L1121.6,1174.4 L1120.0,1174.5 L1117.3,1174.5 L1114.5,1174.5 L1112.9,1174.4 L1111.6,1174.2 L1110.5,1174.0 L1109.5,1173.8 L1108.7,1173.5 L1108.0,1173.1 L1107.5,1172.6 L1107.1,1172.1 L1106.7,1171.5 L1106.6,1170.8 L1106.5,1169.5 L1106.6,1168.2 L1106.7,1167.5 L1107.1,1166.9 L1107.5,1166.4 L1108.0,1165.9 L1108.7,1165.5 L1109.5,1165.2 L1110.5,1165.0 L1111.6,1164.8 L1112.9,1164.6 L1114.5,1164.5 L1117.2,1164.5 L1120.0,1164.5 L1121.6,1164.6 L1122.9,1164.8 L1124.0,1165.0 L1125.0,1165.2 L1125.8,1165.5 L1126.5,1165.9 L1127.0,1166.4 L1127.4,1166.9 L1127.8,1167.5 L1127.9,1168.2 Z" fill="#0c0d0d" filter="url(#b1)"/>
<path d="M991.0,1210.7 L1005.0,1210.7 A5.0,5.0 0 0 1 1005.0,1220.7 L991.0,1220.7 A5.0,5.0 0 0 1 991.0,1210.7 Z" fill="#c2caca" filter="url(#b3)"/>
<path d="M1050.0,1217.0 L1064.0,1217.0 A5.0,5.0 0 0 1 1064.0,1227.0 L1050.0,1227.0 A5.0,5.0 0 0 1 1050.0,1217.0 Z" fill="#c2caca" filter="url(#b3)"/>
<path d="M1110.0,1220.0 L1124.0,1220.0 A5.0,5.0 0 0 1 1124.0,1230.0 L1110.0,1230.0 A5.0,5.0 0 0 1 1110.0,1220.0 Z" fill="#c2caca" filter="url(#b3)"/>
<rect x="1161" y="1146" width="29.0" height="60.0" rx="11" fill="#717b7b" filter="url(#b4)"/>
<rect x="1163" y="1152" width="25.0" height="28.0" rx="10" fill="#3a4444" filter="url(#b4)"/>
<rect x="1226" y="1154" width="29.0" height="54.0" rx="11" fill="#6c7777" filter="url(#b4)"/>
<rect x="1230" y="1170" width="21.0" height="30.0" rx="9" fill="#5a6565" filter="url(#b4)"/>
<rect x="1283" y="1151" width="28.0" height="59.0" rx="11" fill="#737e7e" filter="url(#b4)"/>
<rect x="1287" y="1160" width="18.0" height="20.0" rx="8" fill="#5b6666" filter="url(#b4)"/>
</g>
<g transform="translate(-0.58,1382.00) scale(1.0000,1)"><text font-size="52.50">D</text></g>
<g transform="translate(766.17,1376.75) scale(1.0000,1)"><text font-size="52.50">E</text></g>
<g transform="translate(410.70,1386.90) scale(0.9955,1)"><text font-size="38.48">Alix</text></g>
<g transform="translate(1102.06,1386.99) scale(0.9560,1)"><text font-size="40.57">CD63</text></g>
<path d="M189.5,1440.15 H205.75 V1641.75" fill="none" stroke="#000" stroke-width="2.6"/>
<line x1="189.5" y1="1641.75" x2="205.75" y2="1641.75" stroke="#000" stroke-width="2.6"/>
<line x1="189.5" y1="1574.55" x2="205.75" y2="1574.55" stroke="#000" stroke-width="2.6"/>
<line x1="189.5" y1="1507.35" x2="205.75" y2="1507.35" stroke="#000" stroke-width="2.6"/>
<line x1="197.25" y1="1608.15" x2="205.75" y2="1608.15" stroke="#000" stroke-width="2.6"/>
<line x1="197.25" y1="1540.95" x2="205.75" y2="1540.95" stroke="#000" stroke-width="2.6"/>
<line x1="197.25" y1="1473.75" x2="205.75" y2="1473.75" stroke="#000" stroke-width="2.6"/>
<line x1="189.5" y1="1641.75" x2="678" y2="1641.75" stroke="#000" stroke-width="2.6"/>
<g transform="translate(142.37,1652.06) scale(1.0431,1)"><text font-size="29.33">0.0</text></g>
<g transform="translate(142.68,1584.86) scale(1.0431,1)"><text x="0.00" font-size="29.33">0.</text><path d="M515 0V1237L197 1010V1180L530 1409H696V0Z" transform="translate(24.46,0) scale(0.01432,-0.01432)" fill="#000"/></g>
<g transform="translate(142.76,1517.66) scale(1.0431,1)"><text font-size="29.33">0.2</text></g>
<g transform="translate(142.53,1450.46) scale(1.0431,1)"><text font-size="29.33">0.3</text></g>
<path d="M899.5,1440.15 H915.75 V1641.75" fill="none" stroke="#000" stroke-width="2.6"/>
<line x1="899.5" y1="1641.75" x2="915.75" y2="1641.75" stroke="#000" stroke-width="2.6"/>
<line x1="899.5" y1="1574.55" x2="915.75" y2="1574.55" stroke="#000" stroke-width="2.6"/>
<line x1="899.5" y1="1507.35" x2="915.75" y2="1507.35" stroke="#000" stroke-width="2.6"/>
<line x1="907.25" y1="1608.15" x2="915.75" y2="1608.15" stroke="#000" stroke-width="2.6"/>
<line x1="907.25" y1="1540.95" x2="915.75" y2="1540.95" stroke="#000" stroke-width="2.6"/>
<line x1="907.25" y1="1473.75" x2="915.75" y2="1473.75" stroke="#000" stroke-width="2.6"/>
<line x1="899.5" y1="1641.75" x2="1390" y2="1641.75" stroke="#000" stroke-width="2.6"/>
<g transform="translate(876.56,1652.06) scale(1.0505,1)"><text font-size="29.33">0</text></g>
<g transform="translate(876.94,1584.86) scale(1.0505,1)"><text font-size="29.33">2</text></g>
<g transform="translate(876.25,1517.66) scale(1.0505,1)"><text font-size="29.33">4</text></g>
<g transform="translate(876.71,1450.46) scale(1.0505,1)"><text font-size="29.33">6</text></g>
<rect x="254.3" y="1510.8" width="91.90" height="130.95" fill="#242a2b" stroke="#000" stroke-width="2.6"/>
<line x1="300.25" y1="1509.5" x2="300.25" y2="1459.5" stroke="#000" stroke-width="2.6"/>
<line x1="275.75" y1="1459.5" x2="324.75" y2="1459.5" stroke="#000" stroke-width="2.6"/>
<rect x="395.8" y="1507.05" width="91.65" height="134.70" fill="#a8b6b9" stroke="#000" stroke-width="2.6"/>
<line x1="441.75" y1="1505.75" x2="441.75" y2="1468.25" stroke="#000" stroke-width="2.6"/>
<line x1="417.25" y1="1468.25" x2="466.25" y2="1468.25" stroke="#000" stroke-width="2.6"/>
<rect x="538.3" y="1516.3" width="90.40" height="125.45" fill="#849694" stroke="#000" stroke-width="2.6"/>
<line x1="583.25" y1="1515" x2="583.25" y2="1479.5" stroke="#000" stroke-width="2.6"/>
<line x1="558.75" y1="1479.5" x2="607.75" y2="1479.5" stroke="#000" stroke-width="2.6"/>
<rect x="964.55" y="1497.55" width="91.65" height="144.20" fill="#242a2b" stroke="#000" stroke-width="2.6"/>
<line x1="1010.25" y1="1496.25" x2="1010.25" y2="1478.25" stroke="#000" stroke-width="2.6"/>
<line x1="985.75" y1="1478.25" x2="1034.75" y2="1478.25" stroke="#000" stroke-width="2.6"/>
<rect x="1106.05" y="1613.3" width="91.15" height="28.45" fill="#a8b6b9" stroke="#000" stroke-width="2.6"/>
<line x1="1151.5" y1="1612" x2="1151.5" y2="1608" stroke="#000" stroke-width="2.6"/>
<line x1="1127.0" y1="1608" x2="1176.0" y2="1608" stroke="#000" stroke-width="2.6"/>
<rect x="1247.8" y="1613.3" width="90.65" height="28.45" fill="#849694" stroke="#000" stroke-width="2.6"/>
<line x1="1293" y1="1612" x2="1293" y2="1610.5" stroke="#000" stroke-width="2.6"/>
<line x1="1268.5" y1="1610.5" x2="1317.5" y2="1610.5" stroke="#000" stroke-width="2.6"/>
<line x1="300.25" y1="1641.75" x2="300.25" y2="1658.25" stroke="#000" stroke-width="2.6"/>
<line x1="441.75" y1="1641.75" x2="441.75" y2="1658.25" stroke="#000" stroke-width="2.6"/>
<line x1="583.25" y1="1641.75" x2="583.25" y2="1658.25" stroke="#000" stroke-width="2.6"/>
<line x1="1010.25" y1="1641.75" x2="1010.25" y2="1658.25" stroke="#000" stroke-width="2.6"/>
<line x1="1151.5" y1="1641.75" x2="1151.5" y2="1658.25" stroke="#000" stroke-width="2.6"/>
<line x1="1293" y1="1641.75" x2="1293" y2="1658.25" stroke="#000" stroke-width="2.6"/>
<g transform="translate(1133.45,1602.10) scale(0.9821,1)"><text font-size="32.14">***</text></g>
<g transform="translate(1276.71,1602.37) scale(1.0062,1)"><text font-size="30.71">***</text></g>
<g transform="translate(80.47,1624.21) rotate(-90) scale(1.0042,1)"><text font-size="32.65">Normalized</text></g>
<g transform="translate(120.95,1620.39) rotate(-90) scale(0.9895,1)"><text font-size="33.03">expression</text></g>
<g transform="translate(817.17,1624.21) rotate(-90) scale(1.0042,1)"><text font-size="32.65">Normalized</text></g>
<g transform="translate(857.65,1620.39) rotate(-90) scale(0.9895,1)"><text font-size="33.03">expression</text></g>
<g transform="translate(221.20,1772.50) rotate(-45)"><g transform="scale(0.9250,1)"><text font-size="33.90">ADE</text></g><g transform="translate(64.48,-10.60) scale(0.9250,1)"><text font-size="24.80">Naïve</text></g></g>
<g transform="translate(336.10,1798.70) rotate(-45)"><g transform="scale(0.9250,1)"><text font-size="33.90">ADE</text></g><g transform="translate(64.48,-10.60) scale(0.9250,1)"><text font-size="24.80">Scramble</text></g></g>
<g transform="translate(480.70,1796.70) rotate(-45)"><g transform="scale(0.9250,1)"><text font-size="33.90">ADE</text></g><g transform="translate(64.48,-10.60) scale(0.9250,1)"><text x="0.00" font-size="24.80">Loxl</text><path d="M515 0V1237L197 1010V1180L530 1409H696V0Z" transform="translate(45.49,0) scale(0.01211,-0.01211)" fill="#000"/><text x="66.18" font-size="24.80">KD</text></g></g>
<g transform="translate(931.20,1772.50) rotate(-45)"><g transform="scale(0.9250,1)"><text font-size="33.90">ADE</text></g><g transform="translate(64.48,-10.60) scale(0.9250,1)"><text font-size="24.80">Naïve</text></g></g>
<g transform="translate(1045.70,1798.70) rotate(-45)"><g transform="scale(0.9250,1)"><text font-size="33.90">ADE</text></g><g transform="translate(64.48,-10.60) scale(0.9250,1)"><text font-size="24.80">Scramble</text></g></g>
<g transform="translate(1190.70,1796.70) rotate(-45)"><g transform="scale(0.9250,1)"><text font-size="33.90">ADE</text></g><g transform="translate(64.48,-10.60) scale(0.9250,1)"><text x="0.00" font-size="24.80">Loxl</text><path d="M515 0V1237L197 1010V1180L530 1409H696V0Z" transform="translate(45.49,0) scale(0.01211,-0.01211)" fill="#000"/><text x="66.18" font-size="24.80">KD</text></g></g>
</svg></body></html>
